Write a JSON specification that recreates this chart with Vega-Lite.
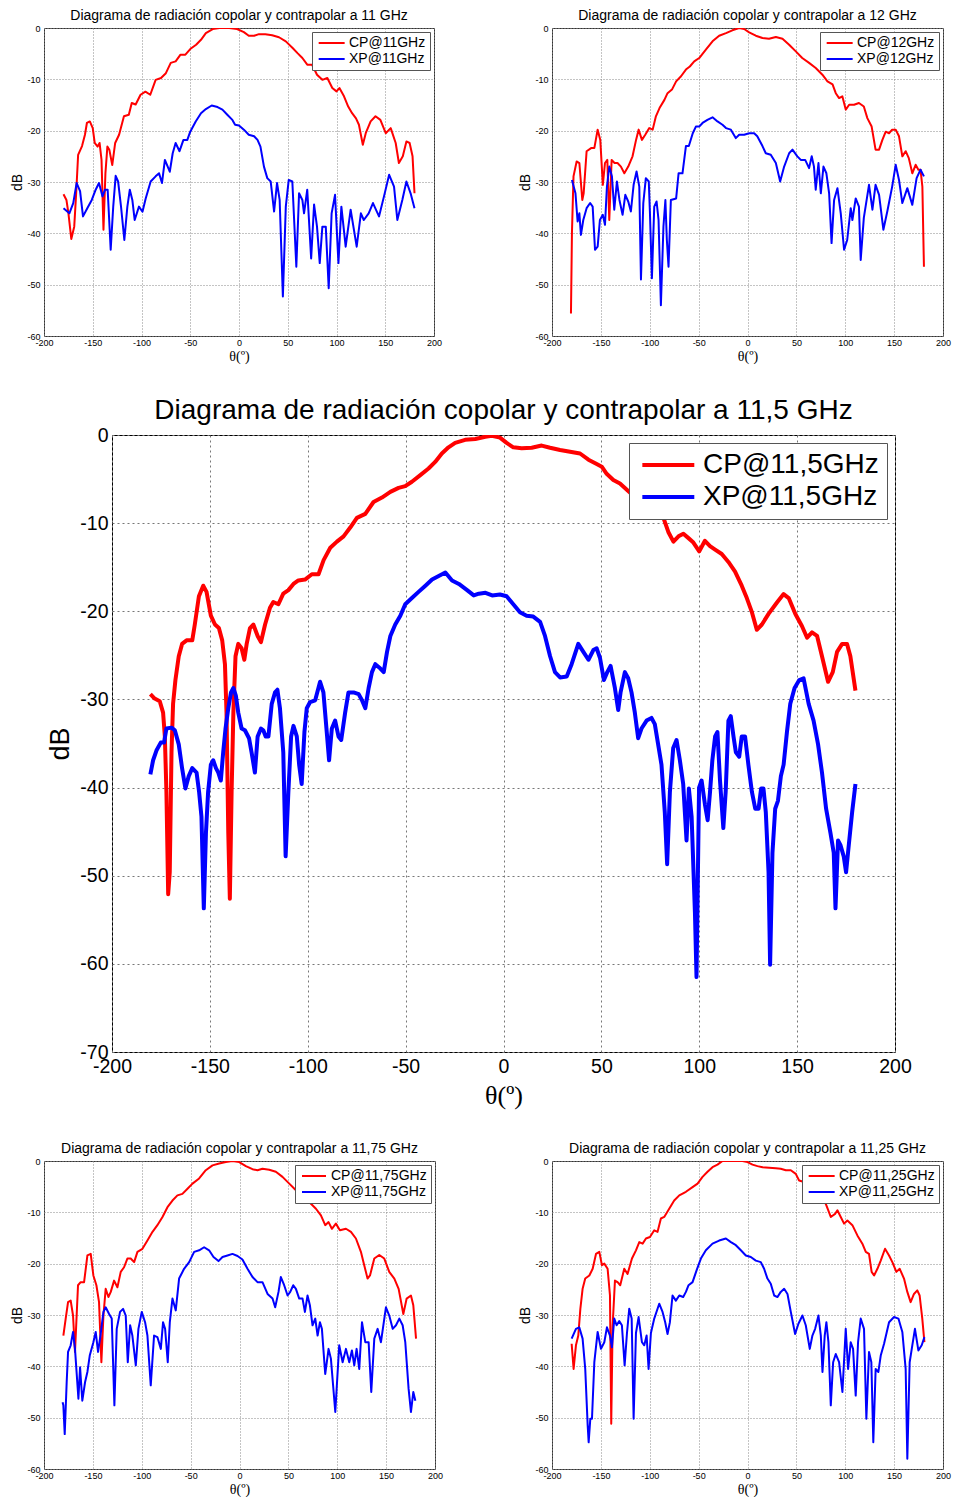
{
  "$schema": "https://vega.github.io/schema/vega-lite/v6.json",
  "background": "white",
  "padding": {"left": 10, "top": 8, "right": 0, "bottom": 0},
  "config": {
    "font": "Liberation Sans",
    "view": {"stroke": "#333", "strokeWidth": 1},
    "axis": {
      "grid": true,
      "gridColor": "#888",
      "gridDash": [1, 2],
      "gridWidth": 1,
      "domain": false,
      "ticks": false,
      "labelColor": "#000",
      "labelFont": "Liberation Sans",
      "labelExpr": "datum.value + ''",
      "titleColor": "#000",
      "titleFontWeight": "normal",
      "labelOverlap": false,
      "labelFlush": false
    },
    "title": {"font": "Liberation Sans", "fontWeight": "normal", "color": "#000", "anchor": "middle"},
    "legend": {
      "title": null,
      "orient": "top-right",
      "fillColor": "#fff",
      "strokeColor": "#555",
      "labelColor": "#000",
      "labelFont": "Liberation Sans",
      "labelLimit": 0,
      "cornerRadius": 0
    }
  },
  "datasets": {
    "f11": [
      {"theta": -180, "dB": -32.4, "serie": "CP@11GHz"}, {"theta": -177, "dB": -33.5, "serie": "CP@11GHz"}, {"theta": -175, "dB": -36, "serie": "CP@11GHz"}, {"theta": -172, "dB": -41.1, "serie": "CP@11GHz"}, {"theta": -169, "dB": -38.7, "serie": "CP@11GHz"}, {"theta": -167, "dB": -32.2, "serie": "CP@11GHz"}, {"theta": -165, "dB": -24.7, "serie": "CP@11GHz"}, {"theta": -161, "dB": -23, "serie": "CP@11GHz"}, {"theta": -158, "dB": -20.8, "serie": "CP@11GHz"}, {"theta": -156, "dB": -18.5, "serie": "CP@11GHz"}, {"theta": -153, "dB": -18.2, "serie": "CP@11GHz"}, {"theta": -150, "dB": -19.5, "serie": "CP@11GHz"}, {"theta": -148, "dB": -22.4, "serie": "CP@11GHz"}, {"theta": -145, "dB": -23.1, "serie": "CP@11GHz"}, {"theta": -143, "dB": -22.4, "serie": "CP@11GHz"}, {"theta": -141, "dB": -25.7, "serie": "CP@11GHz"}, {"theta": -139, "dB": -39.3, "serie": "CP@11GHz"}, {"theta": -137, "dB": -28.3, "serie": "CP@11GHz"}, {"theta": -135, "dB": -23.1, "serie": "CP@11GHz"}, {"theta": -133, "dB": -23.7, "serie": "CP@11GHz"}, {"theta": -130, "dB": -26.7, "serie": "CP@11GHz"}, {"theta": -127, "dB": -22.4, "serie": "CP@11GHz"}, {"theta": -123, "dB": -20.8, "serie": "CP@11GHz"}, {"theta": -118, "dB": -17.2, "serie": "CP@11GHz"}, {"theta": -113, "dB": -16.9, "serie": "CP@11GHz"}, {"theta": -110, "dB": -14.6, "serie": "CP@11GHz"}, {"theta": -106, "dB": -14.9, "serie": "CP@11GHz"}, {"theta": -101, "dB": -13, "serie": "CP@11GHz"}, {"theta": -96, "dB": -12.4, "serie": "CP@11GHz"}, {"theta": -91, "dB": -13, "serie": "CP@11GHz"}, {"theta": -85.5, "dB": -10.1, "serie": "CP@11GHz"}, {"theta": -80, "dB": -9.75, "serie": "CP@11GHz"}, {"theta": -75, "dB": -8.8, "serie": "CP@11GHz"}, {"theta": -70, "dB": -6.8, "serie": "CP@11GHz"}, {"theta": -65, "dB": -6.5, "serie": "CP@11GHz"}, {"theta": -60, "dB": -5.2, "serie": "CP@11GHz"}, {"theta": -55, "dB": -5.2, "serie": "CP@11GHz"}, {"theta": -50, "dB": -4.1, "serie": "CP@11GHz"}, {"theta": -44, "dB": -3.25, "serie": "CP@11GHz"}, {"theta": -39, "dB": -2.3, "serie": "CP@11GHz"}, {"theta": -34, "dB": -1, "serie": "CP@11GHz"}, {"theta": -27, "dB": -0.2, "serie": "CP@11GHz"}, {"theta": -20, "dB": 0, "serie": "CP@11GHz"}, {"theta": -10, "dB": 0, "serie": "CP@11GHz"}, {"theta": -2, "dB": -0.2, "serie": "CP@11GHz"}, {"theta": 5, "dB": -0.8, "serie": "CP@11GHz"}, {"theta": 10, "dB": -1.5, "serie": "CP@11GHz"}, {"theta": 15.5, "dB": -1.5, "serie": "CP@11GHz"}, {"theta": 20.5, "dB": -1.2, "serie": "CP@11GHz"}, {"theta": 27, "dB": -1.2, "serie": "CP@11GHz"}, {"theta": 34, "dB": -1.4, "serie": "CP@11GHz"}, {"theta": 41, "dB": -1.8, "serie": "CP@11GHz"}, {"theta": 48, "dB": -2.6, "serie": "CP@11GHz"}, {"theta": 55, "dB": -3.9, "serie": "CP@11GHz"}, {"theta": 60, "dB": -4.9, "serie": "CP@11GHz"}, {"theta": 65, "dB": -5.85, "serie": "CP@11GHz"}, {"theta": 70, "dB": -7.15, "serie": "CP@11GHz"}, {"theta": 75, "dB": -7.15, "serie": "CP@11GHz"}, {"theta": 80, "dB": -9.1, "serie": "CP@11GHz"}, {"theta": 85.5, "dB": -10.1, "serie": "CP@11GHz"}, {"theta": 90.6, "dB": -9.75, "serie": "CP@11GHz"}, {"theta": 95.7, "dB": -11.7, "serie": "CP@11GHz"}, {"theta": 100, "dB": -12.35, "serie": "CP@11GHz"}, {"theta": 103, "dB": -11.7, "serie": "CP@11GHz"}, {"theta": 107.7, "dB": -13.3, "serie": "CP@11GHz"}, {"theta": 112, "dB": -15.3, "serie": "CP@11GHz"}, {"theta": 116, "dB": -16.6, "serie": "CP@11GHz"}, {"theta": 120, "dB": -17.6, "serie": "CP@11GHz"}, {"theta": 123, "dB": -18.85, "serie": "CP@11GHz"}, {"theta": 127, "dB": -22.75, "serie": "CP@11GHz"}, {"theta": 130, "dB": -20.5, "serie": "CP@11GHz"}, {"theta": 135, "dB": -18.2, "serie": "CP@11GHz"}, {"theta": 140, "dB": -17.2, "serie": "CP@11GHz"}, {"theta": 145, "dB": -17.9, "serie": "CP@11GHz"}, {"theta": 150.5, "dB": -20.5, "serie": "CP@11GHz"}, {"theta": 155.6, "dB": -19.5, "serie": "CP@11GHz"}, {"theta": 160.7, "dB": -22.4, "serie": "CP@11GHz"}, {"theta": 164, "dB": -26.3, "serie": "CP@11GHz"}, {"theta": 168, "dB": -25, "serie": "CP@11GHz"}, {"theta": 171.7, "dB": -22.1, "serie": "CP@11GHz"}, {"theta": 175, "dB": -22.4, "serie": "CP@11GHz"}, {"theta": 178, "dB": -25, "serie": "CP@11GHz"}, {"theta": 180, "dB": -32.2, "serie": "CP@11GHz"},
      {"theta": -180, "dB": -35.1, "serie": "XP@11GHz"}, {"theta": -174, "dB": -36.1, "serie": "XP@11GHz"}, {"theta": -170, "dB": -34.1, "serie": "XP@11GHz"}, {"theta": -166.5, "dB": -30.2, "serie": "XP@11GHz"}, {"theta": -163, "dB": -31.8, "serie": "XP@11GHz"}, {"theta": -160, "dB": -36.7, "serie": "XP@11GHz"}, {"theta": -155.6, "dB": -35.1, "serie": "XP@11GHz"}, {"theta": -151, "dB": -33.5, "serie": "XP@11GHz"}, {"theta": -147, "dB": -31.5, "serie": "XP@11GHz"}, {"theta": -143.6, "dB": -30.2, "serie": "XP@11GHz"}, {"theta": -140, "dB": -32.8, "serie": "XP@11GHz"}, {"theta": -137.4, "dB": -31.5, "serie": "XP@11GHz"}, {"theta": -134.7, "dB": -31.5, "serie": "XP@11GHz"}, {"theta": -131.6, "dB": -43.2, "serie": "XP@11GHz"}, {"theta": -129, "dB": -34.8, "serie": "XP@11GHz"}, {"theta": -126.5, "dB": -28.8, "serie": "XP@11GHz"}, {"theta": -124, "dB": -29.9, "serie": "XP@11GHz"}, {"theta": -121, "dB": -34.8, "serie": "XP@11GHz"}, {"theta": -117.6, "dB": -41.3, "serie": "XP@11GHz"}, {"theta": -114.5, "dB": -34.8, "serie": "XP@11GHz"}, {"theta": -112, "dB": -31.5, "serie": "XP@11GHz"}, {"theta": -109.4, "dB": -33.5, "serie": "XP@11GHz"}, {"theta": -107, "dB": -37.4, "serie": "XP@11GHz"}, {"theta": -102.6, "dB": -34.8, "serie": "XP@11GHz"}, {"theta": -99, "dB": -35.8, "serie": "XP@11GHz"}, {"theta": -95.7, "dB": -33.2, "serie": "XP@11GHz"}, {"theta": -90.6, "dB": -29.9, "serie": "XP@11GHz"}, {"theta": -85.5, "dB": -28.9, "serie": "XP@11GHz"}, {"theta": -82, "dB": -28.3, "serie": "XP@11GHz"}, {"theta": -79, "dB": -30.2, "serie": "XP@11GHz"}, {"theta": -76, "dB": -25.7, "serie": "XP@11GHz"}, {"theta": -71, "dB": -28, "serie": "XP@11GHz"}, {"theta": -68, "dB": -24.4, "serie": "XP@11GHz"}, {"theta": -65, "dB": -22.4, "serie": "XP@11GHz"}, {"theta": -61, "dB": -24, "serie": "XP@11GHz"}, {"theta": -57, "dB": -21.8, "serie": "XP@11GHz"}, {"theta": -53, "dB": -21.8, "serie": "XP@11GHz"}, {"theta": -50, "dB": -20.2, "serie": "XP@11GHz"}, {"theta": -44.4, "dB": -18.2, "serie": "XP@11GHz"}, {"theta": -39, "dB": -16.6, "serie": "XP@11GHz"}, {"theta": -34, "dB": -15.8, "serie": "XP@11GHz"}, {"theta": -28, "dB": -15.1, "serie": "XP@11GHz"}, {"theta": -22, "dB": -15.4, "serie": "XP@11GHz"}, {"theta": -17, "dB": -15.9, "serie": "XP@11GHz"}, {"theta": -12, "dB": -16.9, "serie": "XP@11GHz"}, {"theta": -6.8, "dB": -17.9, "serie": "XP@11GHz"}, {"theta": -4, "dB": -18.85, "serie": "XP@11GHz"}, {"theta": 0, "dB": -19, "serie": "XP@11GHz"}, {"theta": 5, "dB": -19.8, "serie": "XP@11GHz"}, {"theta": 10, "dB": -20.8, "serie": "XP@11GHz"}, {"theta": 15.5, "dB": -21.1, "serie": "XP@11GHz"}, {"theta": 19, "dB": -21.8, "serie": "XP@11GHz"}, {"theta": 22, "dB": -23.1, "serie": "XP@11GHz"}, {"theta": 25.6, "dB": -27, "serie": "XP@11GHz"}, {"theta": 29, "dB": -29.25, "serie": "XP@11GHz"}, {"theta": 32.5, "dB": -29.9, "serie": "XP@11GHz"}, {"theta": 36, "dB": -35.75, "serie": "XP@11GHz"}, {"theta": 39, "dB": -30.2, "serie": "XP@11GHz"}, {"theta": 41.7, "dB": -33.5, "serie": "XP@11GHz"}, {"theta": 45, "dB": -52.3, "serie": "XP@11GHz"}, {"theta": 48, "dB": -34.8, "serie": "XP@11GHz"}, {"theta": 51, "dB": -29.6, "serie": "XP@11GHz"}, {"theta": 54.7, "dB": -29.9, "serie": "XP@11GHz"}, {"theta": 58.8, "dB": -46.5, "serie": "XP@11GHz"}, {"theta": 61.6, "dB": -32.2, "serie": "XP@11GHz"}, {"theta": 65, "dB": -33.5, "serie": "XP@11GHz"}, {"theta": 66.7, "dB": -36.1, "serie": "XP@11GHz"}, {"theta": 70, "dB": -31.5, "serie": "XP@11GHz"}, {"theta": 74, "dB": -44.9, "serie": "XP@11GHz"}, {"theta": 77, "dB": -34.4, "serie": "XP@11GHz"}, {"theta": 80, "dB": -38.7, "serie": "XP@11GHz"}, {"theta": 82.8, "dB": -45.8, "serie": "XP@11GHz"}, {"theta": 85.5, "dB": -38.7, "serie": "XP@11GHz"}, {"theta": 89, "dB": -38.7, "serie": "XP@11GHz"}, {"theta": 92, "dB": -50.7, "serie": "XP@11GHz"}, {"theta": 95, "dB": -36.1, "serie": "XP@11GHz"}, {"theta": 98.5, "dB": -32.5, "serie": "XP@11GHz"}, {"theta": 102, "dB": -45.8, "serie": "XP@11GHz"}, {"theta": 105, "dB": -34.8, "serie": "XP@11GHz"}, {"theta": 109.4, "dB": -42.6, "serie": "XP@11GHz"}, {"theta": 114.5, "dB": -35.4, "serie": "XP@11GHz"}, {"theta": 120.7, "dB": -42.6, "serie": "XP@11GHz"}, {"theta": 125, "dB": -36.1, "serie": "XP@11GHz"}, {"theta": 128, "dB": -37.4, "serie": "XP@11GHz"}, {"theta": 133, "dB": -36.1, "serie": "XP@11GHz"}, {"theta": 137.4, "dB": -34.1, "serie": "XP@11GHz"}, {"theta": 143.6, "dB": -36.7, "serie": "XP@11GHz"}, {"theta": 148.7, "dB": -32.8, "serie": "XP@11GHz"}, {"theta": 154, "dB": -28.6, "serie": "XP@11GHz"}, {"theta": 159, "dB": -30.9, "serie": "XP@11GHz"}, {"theta": 162.4, "dB": -37.4, "serie": "XP@11GHz"}, {"theta": 167.5, "dB": -33.5, "serie": "XP@11GHz"}, {"theta": 171.7, "dB": -29.9, "serie": "XP@11GHz"}, {"theta": 176, "dB": -32.2, "serie": "XP@11GHz"}, {"theta": 180, "dB": -35.1, "serie": "XP@11GHz"}
    ],
    "f12": [
      {"theta": -180.6, "dB": -55.6, "serie": "CP@12GHz"}, {"theta": -179.6, "dB": -40, "serie": "CP@12GHz"}, {"theta": -178, "dB": -28.9, "serie": "CP@12GHz"}, {"theta": -174.8, "dB": -26, "serie": "CP@12GHz"}, {"theta": -172, "dB": -26.3, "serie": "CP@12GHz"}, {"theta": -169, "dB": -33.5, "serie": "CP@12GHz"}, {"theta": -167.6, "dB": -32.2, "serie": "CP@12GHz"}, {"theta": -164.6, "dB": -24, "serie": "CP@12GHz"}, {"theta": -160, "dB": -23.4, "serie": "CP@12GHz"}, {"theta": -156.7, "dB": -23.4, "serie": "CP@12GHz"}, {"theta": -153.3, "dB": -19.8, "serie": "CP@12GHz"}, {"theta": -150.6, "dB": -21.8, "serie": "CP@12GHz"}, {"theta": -148, "dB": -30.55, "serie": "CP@12GHz"}, {"theta": -145.8, "dB": -26.3, "serie": "CP@12GHz"}, {"theta": -143.4, "dB": -25.7, "serie": "CP@12GHz"}, {"theta": -141.4, "dB": -37.4, "serie": "CP@12GHz"}, {"theta": -139, "dB": -25.7, "serie": "CP@12GHz"}, {"theta": -136, "dB": -26.3, "serie": "CP@12GHz"}, {"theta": -133, "dB": -26.3, "serie": "CP@12GHz"}, {"theta": -129.5, "dB": -27, "serie": "CP@12GHz"}, {"theta": -126, "dB": -28.3, "serie": "CP@12GHz"}, {"theta": -122, "dB": -27, "serie": "CP@12GHz"}, {"theta": -117.6, "dB": -25, "serie": "CP@12GHz"}, {"theta": -114, "dB": -21.8, "serie": "CP@12GHz"}, {"theta": -111.4, "dB": -19.8, "serie": "CP@12GHz"}, {"theta": -108, "dB": -21.8, "serie": "CP@12GHz"}, {"theta": -104.6, "dB": -20.8, "serie": "CP@12GHz"}, {"theta": -100.5, "dB": -19.5, "serie": "CP@12GHz"}, {"theta": -97, "dB": -19.8, "serie": "CP@12GHz"}, {"theta": -93.7, "dB": -17.2, "serie": "CP@12GHz"}, {"theta": -90, "dB": -15.6, "serie": "CP@12GHz"}, {"theta": -85, "dB": -14, "serie": "CP@12GHz"}, {"theta": -81.8, "dB": -12.7, "serie": "CP@12GHz"}, {"theta": -77.3, "dB": -12, "serie": "CP@12GHz"}, {"theta": -73, "dB": -10.4, "serie": "CP@12GHz"}, {"theta": -68, "dB": -9.4, "serie": "CP@12GHz"}, {"theta": -63, "dB": -8.1, "serie": "CP@12GHz"}, {"theta": -59, "dB": -7.5, "serie": "CP@12GHz"}, {"theta": -54.5, "dB": -6.5, "serie": "CP@12GHz"}, {"theta": -49.4, "dB": -5.85, "serie": "CP@12GHz"}, {"theta": -42.6, "dB": -4.2, "serie": "CP@12GHz"}, {"theta": -35.8, "dB": -2.6, "serie": "CP@12GHz"}, {"theta": -29, "dB": -1.5, "serie": "CP@12GHz"}, {"theta": -22, "dB": -1, "serie": "CP@12GHz"}, {"theta": -15.5, "dB": -0.45, "serie": "CP@12GHz"}, {"theta": -8.5, "dB": 0, "serie": "CP@12GHz"}, {"theta": -3.4, "dB": -0.2, "serie": "CP@12GHz"}, {"theta": 1.7, "dB": -0.85, "serie": "CP@12GHz"}, {"theta": 8.5, "dB": -1.5, "serie": "CP@12GHz"}, {"theta": 15.3, "dB": -1.95, "serie": "CP@12GHz"}, {"theta": 22, "dB": -2.1, "serie": "CP@12GHz"}, {"theta": 29, "dB": -1.75, "serie": "CP@12GHz"}, {"theta": 35.8, "dB": -2.1, "serie": "CP@12GHz"}, {"theta": 42.6, "dB": -3.25, "serie": "CP@12GHz"}, {"theta": 49.4, "dB": -4.55, "serie": "CP@12GHz"}, {"theta": 56, "dB": -5.85, "serie": "CP@12GHz"}, {"theta": 63, "dB": -6.8, "serie": "CP@12GHz"}, {"theta": 69.8, "dB": -7.8, "serie": "CP@12GHz"}, {"theta": 76.6, "dB": -9.1, "serie": "CP@12GHz"}, {"theta": 81.8, "dB": -10.4, "serie": "CP@12GHz"}, {"theta": 87, "dB": -11, "serie": "CP@12GHz"}, {"theta": 90.3, "dB": -12.7, "serie": "CP@12GHz"}, {"theta": 93.7, "dB": -13.65, "serie": "CP@12GHz"}, {"theta": 97, "dB": -13.3, "serie": "CP@12GHz"}, {"theta": 100.5, "dB": -15.9, "serie": "CP@12GHz"}, {"theta": 104, "dB": -14.95, "serie": "CP@12GHz"}, {"theta": 109, "dB": -14.95, "serie": "CP@12GHz"}, {"theta": 114, "dB": -14.6, "serie": "CP@12GHz"}, {"theta": 119, "dB": -15.3, "serie": "CP@12GHz"}, {"theta": 122.6, "dB": -17.55, "serie": "CP@12GHz"}, {"theta": 127, "dB": -19.2, "serie": "CP@12GHz"}, {"theta": 131, "dB": -23.7, "serie": "CP@12GHz"}, {"theta": 134.6, "dB": -23.7, "serie": "CP@12GHz"}, {"theta": 138, "dB": -21.8, "serie": "CP@12GHz"}, {"theta": 141.4, "dB": -20.2, "serie": "CP@12GHz"}, {"theta": 144.8, "dB": -20.5, "serie": "CP@12GHz"}, {"theta": 148, "dB": -19.8, "serie": "CP@12GHz"}, {"theta": 151.6, "dB": -19.8, "serie": "CP@12GHz"}, {"theta": 155, "dB": -21.1, "serie": "CP@12GHz"}, {"theta": 158.4, "dB": -25, "serie": "CP@12GHz"}, {"theta": 161.8, "dB": -24, "serie": "CP@12GHz"}, {"theta": 165, "dB": -25.35, "serie": "CP@12GHz"}, {"theta": 168.6, "dB": -28.3, "serie": "CP@12GHz"}, {"theta": 172, "dB": -26.65, "serie": "CP@12GHz"}, {"theta": 174.8, "dB": -27.6, "serie": "CP@12GHz"}, {"theta": 177, "dB": -27.6, "serie": "CP@12GHz"}, {"theta": 178.9, "dB": -30.9, "serie": "CP@12GHz"}, {"theta": 180.5, "dB": -46.5, "serie": "CP@12GHz"},
      {"theta": -179.6, "dB": -29.6, "serie": "XP@12GHz"}, {"theta": -176, "dB": -32.2, "serie": "XP@12GHz"}, {"theta": -173.8, "dB": -37.7, "serie": "XP@12GHz"}, {"theta": -172, "dB": -36.1, "serie": "XP@12GHz"}, {"theta": -170.4, "dB": -40.3, "serie": "XP@12GHz"}, {"theta": -168, "dB": -37.4, "serie": "XP@12GHz"}, {"theta": -164.6, "dB": -35.1, "serie": "XP@12GHz"}, {"theta": -161, "dB": -34.1, "serie": "XP@12GHz"}, {"theta": -158.4, "dB": -34.8, "serie": "XP@12GHz"}, {"theta": -156, "dB": -43.2, "serie": "XP@12GHz"}, {"theta": -153.3, "dB": -42.6, "serie": "XP@12GHz"}, {"theta": -151, "dB": -37.4, "serie": "XP@12GHz"}, {"theta": -148, "dB": -36.4, "serie": "XP@12GHz"}, {"theta": -145.8, "dB": -38.35, "serie": "XP@12GHz"}, {"theta": -143.8, "dB": -30.9, "serie": "XP@12GHz"}, {"theta": -141.4, "dB": -27, "serie": "XP@12GHz"}, {"theta": -138.7, "dB": -28.9, "serie": "XP@12GHz"}, {"theta": -136.3, "dB": -35.4, "serie": "XP@12GHz"}, {"theta": -133.6, "dB": -29.9, "serie": "XP@12GHz"}, {"theta": -131, "dB": -33.5, "serie": "XP@12GHz"}, {"theta": -127.8, "dB": -36.4, "serie": "XP@12GHz"}, {"theta": -125, "dB": -32.5, "serie": "XP@12GHz"}, {"theta": -122, "dB": -33.8, "serie": "XP@12GHz"}, {"theta": -119.3, "dB": -35.75, "serie": "XP@12GHz"}, {"theta": -116.5, "dB": -30.55, "serie": "XP@12GHz"}, {"theta": -113.5, "dB": -27.95, "serie": "XP@12GHz"}, {"theta": -110.7, "dB": -30.9, "serie": "XP@12GHz"}, {"theta": -109, "dB": -49, "serie": "XP@12GHz"}, {"theta": -106.6, "dB": -34.1, "serie": "XP@12GHz"}, {"theta": -104, "dB": -29.25, "serie": "XP@12GHz"}, {"theta": -101, "dB": -29.9, "serie": "XP@12GHz"}, {"theta": -99.8, "dB": -36.1, "serie": "XP@12GHz"}, {"theta": -97.8, "dB": -48.75, "serie": "XP@12GHz"}, {"theta": -95.4, "dB": -34.8, "serie": "XP@12GHz"}, {"theta": -93, "dB": -33.8, "serie": "XP@12GHz"}, {"theta": -91, "dB": -37.4, "serie": "XP@12GHz"}, {"theta": -88.6, "dB": -54, "serie": "XP@12GHz"}, {"theta": -86, "dB": -38.7, "serie": "XP@12GHz"}, {"theta": -84, "dB": -33.5, "serie": "XP@12GHz"}, {"theta": -82.5, "dB": -41.3, "serie": "XP@12GHz"}, {"theta": -80.8, "dB": -46.5, "serie": "XP@12GHz"}, {"theta": -78.4, "dB": -33.5, "serie": "XP@12GHz"}, {"theta": -73, "dB": -33.2, "serie": "XP@12GHz"}, {"theta": -70.5, "dB": -28.3, "serie": "XP@12GHz"}, {"theta": -66.5, "dB": -28.3, "serie": "XP@12GHz"}, {"theta": -63, "dB": -23, "serie": "XP@12GHz"}, {"theta": -60, "dB": -23, "serie": "XP@12GHz"}, {"theta": -56, "dB": -20.5, "serie": "XP@12GHz"}, {"theta": -52.8, "dB": -19.2, "serie": "XP@12GHz"}, {"theta": -49.4, "dB": -19.2, "serie": "XP@12GHz"}, {"theta": -46, "dB": -18.5, "serie": "XP@12GHz"}, {"theta": -41, "dB": -17.9, "serie": "XP@12GHz"}, {"theta": -35.8, "dB": -17.4, "serie": "XP@12GHz"}, {"theta": -30.7, "dB": -18.2, "serie": "XP@12GHz"}, {"theta": -25.6, "dB": -18.85, "serie": "XP@12GHz"}, {"theta": -22, "dB": -19.5, "serie": "XP@12GHz"}, {"theta": -17, "dB": -19.8, "serie": "XP@12GHz"}, {"theta": -12, "dB": -21.45, "serie": "XP@12GHz"}, {"theta": -8.5, "dB": -20.8, "serie": "XP@12GHz"}, {"theta": -3.4, "dB": -20.8, "serie": "XP@12GHz"}, {"theta": 1.7, "dB": -20.5, "serie": "XP@12GHz"}, {"theta": 6.8, "dB": -20.5, "serie": "XP@12GHz"}, {"theta": 10, "dB": -21.1, "serie": "XP@12GHz"}, {"theta": 15.3, "dB": -23, "serie": "XP@12GHz"}, {"theta": 18.7, "dB": -24.4, "serie": "XP@12GHz"}, {"theta": 23.8, "dB": -24.7, "serie": "XP@12GHz"}, {"theta": 29, "dB": -26.3, "serie": "XP@12GHz"}, {"theta": 33.4, "dB": -29.9, "serie": "XP@12GHz"}, {"theta": 37.5, "dB": -27, "serie": "XP@12GHz"}, {"theta": 42.6, "dB": -24.4, "serie": "XP@12GHz"}, {"theta": 46, "dB": -23.7, "serie": "XP@12GHz"}, {"theta": 51, "dB": -25, "serie": "XP@12GHz"}, {"theta": 54.5, "dB": -25.7, "serie": "XP@12GHz"}, {"theta": 59, "dB": -25.7, "serie": "XP@12GHz"}, {"theta": 63, "dB": -27.3, "serie": "XP@12GHz"}, {"theta": 65.7, "dB": -25, "serie": "XP@12GHz"}, {"theta": 68, "dB": -27, "serie": "XP@12GHz"}, {"theta": 69.8, "dB": -31.5, "serie": "XP@12GHz"}, {"theta": 72.6, "dB": -26.3, "serie": "XP@12GHz"}, {"theta": 75, "dB": -32.2, "serie": "XP@12GHz"}, {"theta": 77.7, "dB": -27, "serie": "XP@12GHz"}, {"theta": 80.7, "dB": -28.3, "serie": "XP@12GHz"}, {"theta": 83.5, "dB": -32.2, "serie": "XP@12GHz"}, {"theta": 86, "dB": -41.9, "serie": "XP@12GHz"}, {"theta": 88.6, "dB": -33.5, "serie": "XP@12GHz"}, {"theta": 92, "dB": -31.2, "serie": "XP@12GHz"}, {"theta": 95.4, "dB": -36.1, "serie": "XP@12GHz"}, {"theta": 98.8, "dB": -43.2, "serie": "XP@12GHz"}, {"theta": 102, "dB": -41.3, "serie": "XP@12GHz"}, {"theta": 105.6, "dB": -35.1, "serie": "XP@12GHz"}, {"theta": 107.3, "dB": -37.4, "serie": "XP@12GHz"}, {"theta": 110.7, "dB": -33.2, "serie": "XP@12GHz"}, {"theta": 114, "dB": -34.8, "serie": "XP@12GHz"}, {"theta": 115.8, "dB": -45.2, "serie": "XP@12GHz"}, {"theta": 119, "dB": -37, "serie": "XP@12GHz"}, {"theta": 124.3, "dB": -30.55, "serie": "XP@12GHz"}, {"theta": 127.8, "dB": -35.4, "serie": "XP@12GHz"}, {"theta": 131, "dB": -30.55, "serie": "XP@12GHz"}, {"theta": 134.6, "dB": -32.5, "serie": "XP@12GHz"}, {"theta": 139, "dB": -39.3, "serie": "XP@12GHz"}, {"theta": 143, "dB": -35.75, "serie": "XP@12GHz"}, {"theta": 148, "dB": -30.9, "serie": "XP@12GHz"}, {"theta": 151.6, "dB": -26.65, "serie": "XP@12GHz"}, {"theta": 155, "dB": -29.6, "serie": "XP@12GHz"}, {"theta": 158.4, "dB": -34.1, "serie": "XP@12GHz"}, {"theta": 163.5, "dB": -31.2, "serie": "XP@12GHz"}, {"theta": 168.6, "dB": -34.45, "serie": "XP@12GHz"}, {"theta": 173, "dB": -29.25, "serie": "XP@12GHz"}, {"theta": 177, "dB": -27.6, "serie": "XP@12GHz"}, {"theta": 180.5, "dB": -28.9, "serie": "XP@12GHz"}
    ],
    "f115": [
      {"theta": -180.4, "dB": -29.4, "serie": "CP@11,5GHz"}, {"theta": -178.2, "dB": -29.9, "serie": "CP@11,5GHz"}, {"theta": -175.6, "dB": -30.2, "serie": "CP@11,5GHz"}, {"theta": -173.9, "dB": -31.5, "serie": "CP@11,5GHz"}, {"theta": -173, "dB": -34.2, "serie": "CP@11,5GHz"}, {"theta": -172.2, "dB": -40.5, "serie": "CP@11,5GHz"}, {"theta": -171.3, "dB": -52.1, "serie": "CP@11,5GHz"}, {"theta": -170.5, "dB": -49.6, "serie": "CP@11,5GHz"}, {"theta": -169.6, "dB": -36, "serie": "CP@11,5GHz"}, {"theta": -168.8, "dB": -30.5, "serie": "CP@11,5GHz"}, {"theta": -167.6, "dB": -27.8, "serie": "CP@11,5GHz"}, {"theta": -165.9, "dB": -25.1, "serie": "CP@11,5GHz"}, {"theta": -164.2, "dB": -23.7, "serie": "CP@11,5GHz"}, {"theta": -161.9, "dB": -23.3, "serie": "CP@11,5GHz"}, {"theta": -159, "dB": -23.3, "serie": "CP@11,5GHz"}, {"theta": -157.7, "dB": -21.5, "serie": "CP@11,5GHz"}, {"theta": -155.6, "dB": -18.3, "serie": "CP@11,5GHz"}, {"theta": -153.4, "dB": -17.1, "serie": "CP@11,5GHz"}, {"theta": -151.7, "dB": -17.8, "serie": "CP@11,5GHz"}, {"theta": -149.5, "dB": -20.5, "serie": "CP@11,5GHz"}, {"theta": -147.4, "dB": -21.5, "serie": "CP@11,5GHz"}, {"theta": -145.4, "dB": -21.9, "serie": "CP@11,5GHz"}, {"theta": -143.7, "dB": -23.3, "serie": "CP@11,5GHz"}, {"theta": -142.3, "dB": -26, "serie": "CP@11,5GHz"}, {"theta": -141.5, "dB": -31.5, "serie": "CP@11,5GHz"}, {"theta": -140.6, "dB": -45.1, "serie": "CP@11,5GHz"}, {"theta": -139.8, "dB": -52.6, "serie": "CP@11,5GHz"}, {"theta": -138.9, "dB": -40.5, "serie": "CP@11,5GHz"}, {"theta": -138, "dB": -31.5, "serie": "CP@11,5GHz"}, {"theta": -136.9, "dB": -25.1, "serie": "CP@11,5GHz"}, {"theta": -135.5, "dB": -23.7, "serie": "CP@11,5GHz"}, {"theta": -133.8, "dB": -24.2, "serie": "CP@11,5GHz"}, {"theta": -132.4, "dB": -25.5, "serie": "CP@11,5GHz"}, {"theta": -131.2, "dB": -23.7, "serie": "CP@11,5GHz"}, {"theta": -129.5, "dB": -21.9, "serie": "CP@11,5GHz"}, {"theta": -127.8, "dB": -21.5, "serie": "CP@11,5GHz"}, {"theta": -125.6, "dB": -22.8, "serie": "CP@11,5GHz"}, {"theta": -123.9, "dB": -23.5, "serie": "CP@11,5GHz"}, {"theta": -121.8, "dB": -21.5, "serie": "CP@11,5GHz"}, {"theta": -119.3, "dB": -19.6, "serie": "CP@11,5GHz"}, {"theta": -117.6, "dB": -18.95, "serie": "CP@11,5GHz"}, {"theta": -115, "dB": -19.2, "serie": "CP@11,5GHz"}, {"theta": -112.5, "dB": -18, "serie": "CP@11,5GHz"}, {"theta": -109.9, "dB": -17.6, "serie": "CP@11,5GHz"}, {"theta": -107.3, "dB": -16.9, "serie": "CP@11,5GHz"}, {"theta": -104.8, "dB": -16.5, "serie": "CP@11,5GHz"}, {"theta": -101.4, "dB": -16.4, "serie": "CP@11,5GHz"}, {"theta": -97.9, "dB": -15.8, "serie": "CP@11,5GHz"}, {"theta": -94.5, "dB": -15.8, "serie": "CP@11,5GHz"}, {"theta": -91.9, "dB": -14.2, "serie": "CP@11,5GHz"}, {"theta": -88.5, "dB": -12.8, "serie": "CP@11,5GHz"}, {"theta": -85.1, "dB": -12.1, "serie": "CP@11,5GHz"}, {"theta": -81.7, "dB": -11.5, "serie": "CP@11,5GHz"}, {"theta": -78.3, "dB": -10.5, "serie": "CP@11,5GHz"}, {"theta": -74.9, "dB": -9.4, "serie": "CP@11,5GHz"}, {"theta": -70.6, "dB": -8.95, "serie": "CP@11,5GHz"}, {"theta": -66.4, "dB": -7.6, "serie": "CP@11,5GHz"}, {"theta": -62.1, "dB": -7.1, "serie": "CP@11,5GHz"}, {"theta": -57.8, "dB": -6.45, "serie": "CP@11,5GHz"}, {"theta": -53.6, "dB": -6, "serie": "CP@11,5GHz"}, {"theta": -50.2, "dB": -5.8, "serie": "CP@11,5GHz"}, {"theta": -46.8, "dB": -5.3, "serie": "CP@11,5GHz"}, {"theta": -42.5, "dB": -4.55, "serie": "CP@11,5GHz"}, {"theta": -38.3, "dB": -3.8, "serie": "CP@11,5GHz"}, {"theta": -34.9, "dB": -3.05, "serie": "CP@11,5GHz"}, {"theta": -31.5, "dB": -2.1, "serie": "CP@11,5GHz"}, {"theta": -28.1, "dB": -1.4, "serie": "CP@11,5GHz"}, {"theta": -24.7, "dB": -0.9, "serie": "CP@11,5GHz"}, {"theta": -19.6, "dB": -0.55, "serie": "CP@11,5GHz"}, {"theta": -14.4, "dB": -0.45, "serie": "CP@11,5GHz"}, {"theta": -9.3, "dB": -0.2, "serie": "CP@11,5GHz"}, {"theta": -5.9, "dB": -0.1, "serie": "CP@11,5GHz"}, {"theta": -1.8, "dB": -0.3, "serie": "CP@11,5GHz"}, {"theta": 1.6, "dB": -0.9, "serie": "CP@11,5GHz"}, {"theta": 5, "dB": -1.4, "serie": "CP@11,5GHz"}, {"theta": 9.3, "dB": -1.5, "serie": "CP@11,5GHz"}, {"theta": 14.4, "dB": -1.45, "serie": "CP@11,5GHz"}, {"theta": 19.5, "dB": -1.2, "serie": "CP@11,5GHz"}, {"theta": 23.8, "dB": -1.45, "serie": "CP@11,5GHz"}, {"theta": 28.9, "dB": -1.7, "serie": "CP@11,5GHz"}, {"theta": 34, "dB": -1.9, "serie": "CP@11,5GHz"}, {"theta": 39.1, "dB": -2.1, "serie": "CP@11,5GHz"}, {"theta": 43.4, "dB": -2.8, "serie": "CP@11,5GHz"}, {"theta": 47.6, "dB": -3.3, "serie": "CP@11,5GHz"}, {"theta": 50.2, "dB": -3.6, "serie": "CP@11,5GHz"}, {"theta": 52.7, "dB": -4.4, "serie": "CP@11,5GHz"}, {"theta": 56.1, "dB": -5.1, "serie": "CP@11,5GHz"}, {"theta": 59.5, "dB": -5.5, "serie": "CP@11,5GHz"}, {"theta": 63, "dB": -6.2, "serie": "CP@11,5GHz"}, {"theta": 66.4, "dB": -6.9, "serie": "CP@11,5GHz"}, {"theta": 70.6, "dB": -8, "serie": "CP@11,5GHz"}, {"theta": 74.9, "dB": -8.7, "serie": "CP@11,5GHz"}, {"theta": 81.7, "dB": -9.4, "serie": "CP@11,5GHz"}, {"theta": 84.2, "dB": -11, "serie": "CP@11,5GHz"}, {"theta": 86.8, "dB": -12.1, "serie": "CP@11,5GHz"}, {"theta": 89.4, "dB": -11.5, "serie": "CP@11,5GHz"}, {"theta": 91.9, "dB": -11.2, "serie": "CP@11,5GHz"}, {"theta": 94.5, "dB": -11.7, "serie": "CP@11,5GHz"}, {"theta": 97, "dB": -12.2, "serie": "CP@11,5GHz"}, {"theta": 100, "dB": -13.2, "serie": "CP@11,5GHz"}, {"theta": 102.9, "dB": -12, "serie": "CP@11,5GHz"}, {"theta": 105.5, "dB": -12.6, "serie": "CP@11,5GHz"}, {"theta": 108.1, "dB": -13, "serie": "CP@11,5GHz"}, {"theta": 111.5, "dB": -13.5, "serie": "CP@11,5GHz"}, {"theta": 114.9, "dB": -14.4, "serie": "CP@11,5GHz"}, {"theta": 118.3, "dB": -15.5, "serie": "CP@11,5GHz"}, {"theta": 121.7, "dB": -17.1, "serie": "CP@11,5GHz"}, {"theta": 124.3, "dB": -18.5, "serie": "CP@11,5GHz"}, {"theta": 126.9, "dB": -20.1, "serie": "CP@11,5GHz"}, {"theta": 129.4, "dB": -22.1, "serie": "CP@11,5GHz"}, {"theta": 132, "dB": -21.5, "serie": "CP@11,5GHz"}, {"theta": 135.4, "dB": -20.3, "serie": "CP@11,5GHz"}, {"theta": 139.7, "dB": -19, "serie": "CP@11,5GHz"}, {"theta": 143.1, "dB": -18.05, "serie": "CP@11,5GHz"}, {"theta": 145.7, "dB": -18.5, "serie": "CP@11,5GHz"}, {"theta": 149.1, "dB": -20.3, "serie": "CP@11,5GHz"}, {"theta": 152.5, "dB": -21.7, "serie": "CP@11,5GHz"}, {"theta": 155.1, "dB": -23, "serie": "CP@11,5GHz"}, {"theta": 157.6, "dB": -22.4, "serie": "CP@11,5GHz"}, {"theta": 160.2, "dB": -22.8, "serie": "CP@11,5GHz"}, {"theta": 162.7, "dB": -25.1, "serie": "CP@11,5GHz"}, {"theta": 165.8, "dB": -28, "serie": "CP@11,5GHz"}, {"theta": 168.2, "dB": -26.9, "serie": "CP@11,5GHz"}, {"theta": 170.4, "dB": -24.6, "serie": "CP@11,5GHz"}, {"theta": 173, "dB": -23.7, "serie": "CP@11,5GHz"}, {"theta": 175.5, "dB": -23.7, "serie": "CP@11,5GHz"}, {"theta": 177.2, "dB": -25.1, "serie": "CP@11,5GHz"}, {"theta": 179.8, "dB": -29, "serie": "CP@11,5GHz"},
      {"theta": -180.4, "dB": -38.5, "serie": "XP@11,5GHz"}, {"theta": -179, "dB": -36.9, "serie": "XP@11,5GHz"}, {"theta": -177.3, "dB": -35.8, "serie": "XP@11,5GHz"}, {"theta": -175.1, "dB": -34.9, "serie": "XP@11,5GHz"}, {"theta": -173.4, "dB": -34.9, "serie": "XP@11,5GHz"}, {"theta": -172.2, "dB": -33.3, "serie": "XP@11,5GHz"}, {"theta": -169.6, "dB": -33.2, "serie": "XP@11,5GHz"}, {"theta": -167.9, "dB": -33.5, "serie": "XP@11,5GHz"}, {"theta": -165.9, "dB": -35.1, "serie": "XP@11,5GHz"}, {"theta": -164.2, "dB": -37.8, "serie": "XP@11,5GHz"}, {"theta": -162.5, "dB": -40.1, "serie": "XP@11,5GHz"}, {"theta": -160.8, "dB": -38.7, "serie": "XP@11,5GHz"}, {"theta": -159, "dB": -37.8, "serie": "XP@11,5GHz"}, {"theta": -156.8, "dB": -38.3, "serie": "XP@11,5GHz"}, {"theta": -155.5, "dB": -40.5, "serie": "XP@11,5GHz"}, {"theta": -154.3, "dB": -43.3, "serie": "XP@11,5GHz"}, {"theta": -153.1, "dB": -53.7, "serie": "XP@11,5GHz"}, {"theta": -152, "dB": -45.1, "serie": "XP@11,5GHz"}, {"theta": -150.9, "dB": -40.5, "serie": "XP@11,5GHz"}, {"theta": -149.5, "dB": -37.4, "serie": "XP@11,5GHz"}, {"theta": -148.3, "dB": -36.9, "serie": "XP@11,5GHz"}, {"theta": -146.9, "dB": -37.8, "serie": "XP@11,5GHz"}, {"theta": -145.7, "dB": -38.3, "serie": "XP@11,5GHz"}, {"theta": -144.4, "dB": -39.2, "serie": "XP@11,5GHz"}, {"theta": -143.2, "dB": -36, "serie": "XP@11,5GHz"}, {"theta": -142, "dB": -33.3, "serie": "XP@11,5GHz"}, {"theta": -140.6, "dB": -31, "serie": "XP@11,5GHz"}, {"theta": -139.2, "dB": -29.2, "serie": "XP@11,5GHz"}, {"theta": -138, "dB": -28.7, "serie": "XP@11,5GHz"}, {"theta": -136.7, "dB": -29.6, "serie": "XP@11,5GHz"}, {"theta": -135.5, "dB": -31.5, "serie": "XP@11,5GHz"}, {"theta": -133.8, "dB": -33.3, "serie": "XP@11,5GHz"}, {"theta": -132.1, "dB": -33.5, "serie": "XP@11,5GHz"}, {"theta": -130, "dB": -34.4, "serie": "XP@11,5GHz"}, {"theta": -128.7, "dB": -36, "serie": "XP@11,5GHz"}, {"theta": -127, "dB": -38.3, "serie": "XP@11,5GHz"}, {"theta": -125.6, "dB": -34.2, "serie": "XP@11,5GHz"}, {"theta": -123.9, "dB": -33.3, "serie": "XP@11,5GHz"}, {"theta": -122.7, "dB": -33.5, "serie": "XP@11,5GHz"}, {"theta": -121.5, "dB": -34.2, "serie": "XP@11,5GHz"}, {"theta": -120.1, "dB": -34.2, "serie": "XP@11,5GHz"}, {"theta": -118.4, "dB": -30.5, "serie": "XP@11,5GHz"}, {"theta": -116.7, "dB": -29.2, "serie": "XP@11,5GHz"}, {"theta": -115.5, "dB": -28.9, "serie": "XP@11,5GHz"}, {"theta": -114.2, "dB": -31, "serie": "XP@11,5GHz"}, {"theta": -112.5, "dB": -36, "serie": "XP@11,5GHz"}, {"theta": -111.3, "dB": -47.8, "serie": "XP@11,5GHz"}, {"theta": -109.9, "dB": -40.5, "serie": "XP@11,5GHz"}, {"theta": -108.5, "dB": -34.2, "serie": "XP@11,5GHz"}, {"theta": -107.3, "dB": -33, "serie": "XP@11,5GHz"}, {"theta": -105.6, "dB": -34.2, "serie": "XP@11,5GHz"}, {"theta": -104.4, "dB": -37.4, "serie": "XP@11,5GHz"}, {"theta": -103.1, "dB": -39.6, "serie": "XP@11,5GHz"}, {"theta": -101.7, "dB": -33.7, "serie": "XP@11,5GHz"}, {"theta": -100.5, "dB": -31, "serie": "XP@11,5GHz"}, {"theta": -98.8, "dB": -30.3, "serie": "XP@11,5GHz"}, {"theta": -96.2, "dB": -30.1, "serie": "XP@11,5GHz"}, {"theta": -93.7, "dB": -28, "serie": "XP@11,5GHz"}, {"theta": -92, "dB": -29.2, "serie": "XP@11,5GHz"}, {"theta": -90.3, "dB": -33.7, "serie": "XP@11,5GHz"}, {"theta": -89.1, "dB": -36.9, "serie": "XP@11,5GHz"}, {"theta": -87.7, "dB": -33.3, "serie": "XP@11,5GHz"}, {"theta": -86, "dB": -32.4, "serie": "XP@11,5GHz"}, {"theta": -84.3, "dB": -34.2, "serie": "XP@11,5GHz"}, {"theta": -82.9, "dB": -34.6, "serie": "XP@11,5GHz"}, {"theta": -80.9, "dB": -31.5, "serie": "XP@11,5GHz"}, {"theta": -79.2, "dB": -29.2, "serie": "XP@11,5GHz"}, {"theta": -76.6, "dB": -29.2, "serie": "XP@11,5GHz"}, {"theta": -74, "dB": -29.4, "serie": "XP@11,5GHz"}, {"theta": -72.3, "dB": -30.1, "serie": "XP@11,5GHz"}, {"theta": -70.6, "dB": -31, "serie": "XP@11,5GHz"}, {"theta": -68.9, "dB": -28.7, "serie": "XP@11,5GHz"}, {"theta": -67.2, "dB": -26.9, "serie": "XP@11,5GHz"}, {"theta": -65.5, "dB": -26, "serie": "XP@11,5GHz"}, {"theta": -62.9, "dB": -26.5, "serie": "XP@11,5GHz"}, {"theta": -61.2, "dB": -26.9, "serie": "XP@11,5GHz"}, {"theta": -59.5, "dB": -24.6, "serie": "XP@11,5GHz"}, {"theta": -57.8, "dB": -22.8, "serie": "XP@11,5GHz"}, {"theta": -55.3, "dB": -21.5, "serie": "XP@11,5GHz"}, {"theta": -52.7, "dB": -20.5, "serie": "XP@11,5GHz"}, {"theta": -50.2, "dB": -19.2, "serie": "XP@11,5GHz"}, {"theta": -46.8, "dB": -18.5, "serie": "XP@11,5GHz"}, {"theta": -43.4, "dB": -17.8, "serie": "XP@11,5GHz"}, {"theta": -39.9, "dB": -17.1, "serie": "XP@11,5GHz"}, {"theta": -36.5, "dB": -16.4, "serie": "XP@11,5GHz"}, {"theta": -33.1, "dB": -16, "serie": "XP@11,5GHz"}, {"theta": -29.7, "dB": -15.6, "serie": "XP@11,5GHz"}, {"theta": -26.3, "dB": -16.5, "serie": "XP@11,5GHz"}, {"theta": -22.8, "dB": -16.9, "serie": "XP@11,5GHz"}, {"theta": -18.6, "dB": -17.6, "serie": "XP@11,5GHz"}, {"theta": -15.2, "dB": -18.2, "serie": "XP@11,5GHz"}, {"theta": -12.6, "dB": -18, "serie": "XP@11,5GHz"}, {"theta": -9.2, "dB": -17.9, "serie": "XP@11,5GHz"}, {"theta": -5.8, "dB": -18.2, "serie": "XP@11,5GHz"}, {"theta": -1.8, "dB": -18.1, "serie": "XP@11,5GHz"}, {"theta": 1.6, "dB": -18.3, "serie": "XP@11,5GHz"}, {"theta": 5, "dB": -19.2, "serie": "XP@11,5GHz"}, {"theta": 8.4, "dB": -20.1, "serie": "XP@11,5GHz"}, {"theta": 11.8, "dB": -20.5, "serie": "XP@11,5GHz"}, {"theta": 15.2, "dB": -20.6, "serie": "XP@11,5GHz"}, {"theta": 18.7, "dB": -21.2, "serie": "XP@11,5GHz"}, {"theta": 21.2, "dB": -22.8, "serie": "XP@11,5GHz"}, {"theta": 23.8, "dB": -25.1, "serie": "XP@11,5GHz"}, {"theta": 26.3, "dB": -26.9, "serie": "XP@11,5GHz"}, {"theta": 28.9, "dB": -27.5, "serie": "XP@11,5GHz"}, {"theta": 32.3, "dB": -27.4, "serie": "XP@11,5GHz"}, {"theta": 34.8, "dB": -26, "serie": "XP@11,5GHz"}, {"theta": 38.2, "dB": -23.7, "serie": "XP@11,5GHz"}, {"theta": 40.8, "dB": -24.6, "serie": "XP@11,5GHz"}, {"theta": 43.4, "dB": -25.5, "serie": "XP@11,5GHz"}, {"theta": 45.9, "dB": -24.4, "serie": "XP@11,5GHz"}, {"theta": 47.6, "dB": -24.2, "serie": "XP@11,5GHz"}, {"theta": 49.3, "dB": -25.3, "serie": "XP@11,5GHz"}, {"theta": 51.3, "dB": -27.8, "serie": "XP@11,5GHz"}, {"theta": 53, "dB": -26.9, "serie": "XP@11,5GHz"}, {"theta": 54.7, "dB": -26.2, "serie": "XP@11,5GHz"}, {"theta": 56.9, "dB": -28.7, "serie": "XP@11,5GHz"}, {"theta": 58.6, "dB": -31.2, "serie": "XP@11,5GHz"}, {"theta": 59.8, "dB": -29.2, "serie": "XP@11,5GHz"}, {"theta": 62, "dB": -26.9, "serie": "XP@11,5GHz"}, {"theta": 63.7, "dB": -27.6, "serie": "XP@11,5GHz"}, {"theta": 65.4, "dB": -29.2, "serie": "XP@11,5GHz"}, {"theta": 67.1, "dB": -31.5, "serie": "XP@11,5GHz"}, {"theta": 68.8, "dB": -34.4, "serie": "XP@11,5GHz"}, {"theta": 70.5, "dB": -33.3, "serie": "XP@11,5GHz"}, {"theta": 73.1, "dB": -32.4, "serie": "XP@11,5GHz"}, {"theta": 75.6, "dB": -32.1, "serie": "XP@11,5GHz"}, {"theta": 77.3, "dB": -32.8, "serie": "XP@11,5GHz"}, {"theta": 79, "dB": -35.1, "serie": "XP@11,5GHz"}, {"theta": 80.7, "dB": -37.4, "serie": "XP@11,5GHz"}, {"theta": 82.4, "dB": -42.8, "serie": "XP@11,5GHz"}, {"theta": 83.6, "dB": -48.7, "serie": "XP@11,5GHz"}, {"theta": 85, "dB": -40.5, "serie": "XP@11,5GHz"}, {"theta": 86.7, "dB": -35.5, "serie": "XP@11,5GHz"}, {"theta": 88.4, "dB": -34.6, "serie": "XP@11,5GHz"}, {"theta": 90.1, "dB": -36.9, "serie": "XP@11,5GHz"}, {"theta": 91.8, "dB": -39.6, "serie": "XP@11,5GHz"}, {"theta": 93.5, "dB": -46, "serie": "XP@11,5GHz"}, {"theta": 94.7, "dB": -40.1, "serie": "XP@11,5GHz"}, {"theta": 96.1, "dB": -43.3, "serie": "XP@11,5GHz"}, {"theta": 97.8, "dB": -54.2, "serie": "XP@11,5GHz"}, {"theta": 98.6, "dB": -61.5, "serie": "XP@11,5GHz"}, {"theta": 99.9, "dB": -40, "serie": "XP@11,5GHz"}, {"theta": 101.2, "dB": -39.2, "serie": "XP@11,5GHz"}, {"theta": 102.9, "dB": -41.9, "serie": "XP@11,5GHz"}, {"theta": 104.3, "dB": -43.7, "serie": "XP@11,5GHz"}, {"theta": 105.5, "dB": -40.5, "serie": "XP@11,5GHz"}, {"theta": 106.7, "dB": -36.9, "serie": "XP@11,5GHz"}, {"theta": 108.1, "dB": -34.2, "serie": "XP@11,5GHz"}, {"theta": 109.3, "dB": -33.7, "serie": "XP@11,5GHz"}, {"theta": 110.6, "dB": -39.2, "serie": "XP@11,5GHz"}, {"theta": 112.3, "dB": -44.6, "serie": "XP@11,5GHz"}, {"theta": 113.5, "dB": -40.5, "serie": "XP@11,5GHz"}, {"theta": 114.9, "dB": -32.4, "serie": "XP@11,5GHz"}, {"theta": 116.1, "dB": -31.9, "serie": "XP@11,5GHz"}, {"theta": 117.5, "dB": -34.2, "serie": "XP@11,5GHz"}, {"theta": 118.7, "dB": -36, "serie": "XP@11,5GHz"}, {"theta": 120.4, "dB": -36.5, "serie": "XP@11,5GHz"}, {"theta": 121.7, "dB": -34.2, "serie": "XP@11,5GHz"}, {"theta": 123.4, "dB": -34.2, "serie": "XP@11,5GHz"}, {"theta": 125.1, "dB": -37.4, "serie": "XP@11,5GHz"}, {"theta": 126.9, "dB": -40.5, "serie": "XP@11,5GHz"}, {"theta": 128.6, "dB": -42.4, "serie": "XP@11,5GHz"}, {"theta": 130.3, "dB": -42.4, "serie": "XP@11,5GHz"}, {"theta": 131.6, "dB": -40.1, "serie": "XP@11,5GHz"}, {"theta": 132.8, "dB": -40.1, "serie": "XP@11,5GHz"}, {"theta": 134, "dB": -42.8, "serie": "XP@11,5GHz"}, {"theta": 135.4, "dB": -49.6, "serie": "XP@11,5GHz"}, {"theta": 136.2, "dB": -60.1, "serie": "XP@11,5GHz"}, {"theta": 137.4, "dB": -47.4, "serie": "XP@11,5GHz"}, {"theta": 138.8, "dB": -42.4, "serie": "XP@11,5GHz"}, {"theta": 140.2, "dB": -41.5, "serie": "XP@11,5GHz"}, {"theta": 141.7, "dB": -38.7, "serie": "XP@11,5GHz"}, {"theta": 143.1, "dB": -37.4, "serie": "XP@11,5GHz"}, {"theta": 144.8, "dB": -33.7, "serie": "XP@11,5GHz"}, {"theta": 146.5, "dB": -30.5, "serie": "XP@11,5GHz"}, {"theta": 148.7, "dB": -28.7, "serie": "XP@11,5GHz"}, {"theta": 151.1, "dB": -27.8, "serie": "XP@11,5GHz"}, {"theta": 153.3, "dB": -27.6, "serie": "XP@11,5GHz"}, {"theta": 155.9, "dB": -30.5, "serie": "XP@11,5GHz"}, {"theta": 158.4, "dB": -32.4, "serie": "XP@11,5GHz"}, {"theta": 160.7, "dB": -35.1, "serie": "XP@11,5GHz"}, {"theta": 162.7, "dB": -38.3, "serie": "XP@11,5GHz"}, {"theta": 164.8, "dB": -42.4, "serie": "XP@11,5GHz"}, {"theta": 167, "dB": -45.1, "serie": "XP@11,5GHz"}, {"theta": 168.7, "dB": -47.4, "serie": "XP@11,5GHz"}, {"theta": 169.6, "dB": -53.7, "serie": "XP@11,5GHz"}, {"theta": 170.9, "dB": -46, "serie": "XP@11,5GHz"}, {"theta": 172.1, "dB": -46.5, "serie": "XP@11,5GHz"}, {"theta": 173.8, "dB": -47.8, "serie": "XP@11,5GHz"}, {"theta": 175, "dB": -49.6, "serie": "XP@11,5GHz"}, {"theta": 176.4, "dB": -46.5, "serie": "XP@11,5GHz"}, {"theta": 178.1, "dB": -42.8, "serie": "XP@11,5GHz"}, {"theta": 179.8, "dB": -39.6, "serie": "XP@11,5GHz"}
    ],
    "f1175": [
      {"theta": -180.2, "dB": -34, "serie": "CP@11,75GHz"}, {"theta": -177.8, "dB": -30.7, "serie": "CP@11,75GHz"}, {"theta": -175.4, "dB": -27.5, "serie": "CP@11,75GHz"}, {"theta": -172.7, "dB": -27.2, "serie": "CP@11,75GHz"}, {"theta": -170.3, "dB": -30.1, "serie": "CP@11,75GHz"}, {"theta": -168.3, "dB": -37.2, "serie": "CP@11,75GHz"}, {"theta": -165.2, "dB": -24.2, "serie": "CP@11,75GHz"}, {"theta": -162.5, "dB": -23.6, "serie": "CP@11,75GHz"}, {"theta": -159, "dB": -23.6, "serie": "CP@11,75GHz"}, {"theta": -155.6, "dB": -18.4, "serie": "CP@11,75GHz"}, {"theta": -152.2, "dB": -18.1, "serie": "CP@11,75GHz"}, {"theta": -149.5, "dB": -22.3, "serie": "CP@11,75GHz"}, {"theta": -146.4, "dB": -24.2, "serie": "CP@11,75GHz"}, {"theta": -143.7, "dB": -27.5, "serie": "CP@11,75GHz"}, {"theta": -141.3, "dB": -39.2, "serie": "CP@11,75GHz"}, {"theta": -139.2, "dB": -30.1, "serie": "CP@11,75GHz"}, {"theta": -136.9, "dB": -24.9, "serie": "CP@11,75GHz"}, {"theta": -134.1, "dB": -26.5, "serie": "CP@11,75GHz"}, {"theta": -131.7, "dB": -25.5, "serie": "CP@11,75GHz"}, {"theta": -128.3, "dB": -23.3, "serie": "CP@11,75GHz"}, {"theta": -124.9, "dB": -24.6, "serie": "CP@11,75GHz"}, {"theta": -121.5, "dB": -21.6, "serie": "CP@11,75GHz"}, {"theta": -118.1, "dB": -20.7, "serie": "CP@11,75GHz"}, {"theta": -114.7, "dB": -19, "serie": "CP@11,75GHz"}, {"theta": -111.3, "dB": -19, "serie": "CP@11,75GHz"}, {"theta": -107.8, "dB": -19.7, "serie": "CP@11,75GHz"}, {"theta": -104.4, "dB": -17.7, "serie": "CP@11,75GHz"}, {"theta": -99.3, "dB": -17.1, "serie": "CP@11,75GHz"}, {"theta": -94.2, "dB": -15.5, "serie": "CP@11,75GHz"}, {"theta": -89, "dB": -13.8, "serie": "CP@11,75GHz"}, {"theta": -84, "dB": -12.5, "serie": "CP@11,75GHz"}, {"theta": -78.8, "dB": -10.9, "serie": "CP@11,75GHz"}, {"theta": -73.7, "dB": -9, "serie": "CP@11,75GHz"}, {"theta": -68.6, "dB": -7.7, "serie": "CP@11,75GHz"}, {"theta": -63.5, "dB": -6.7, "serie": "CP@11,75GHz"}, {"theta": -58.4, "dB": -6.4, "serie": "CP@11,75GHz"}, {"theta": -53.2, "dB": -5.4, "serie": "CP@11,75GHz"}, {"theta": -48.1, "dB": -4.4, "serie": "CP@11,75GHz"}, {"theta": -41.3, "dB": -3.4, "serie": "CP@11,75GHz"}, {"theta": -34.5, "dB": -1.8, "serie": "CP@11,75GHz"}, {"theta": -27.6, "dB": -0.85, "serie": "CP@11,75GHz"}, {"theta": -20.8, "dB": -0.5, "serie": "CP@11,75GHz"}, {"theta": -14, "dB": -0.2, "serie": "CP@11,75GHz"}, {"theta": -7.2, "dB": 0, "serie": "CP@11,75GHz"}, {"theta": -0.3, "dB": -0.2, "serie": "CP@11,75GHz"}, {"theta": 6.5, "dB": -1, "serie": "CP@11,75GHz"}, {"theta": 13.3, "dB": -1.6, "serie": "CP@11,75GHz"}, {"theta": 18.4, "dB": -1.8, "serie": "CP@11,75GHz"}, {"theta": 23.5, "dB": -1.5, "serie": "CP@11,75GHz"}, {"theta": 30.4, "dB": -1.7, "serie": "CP@11,75GHz"}, {"theta": 37.2, "dB": -2.1, "serie": "CP@11,75GHz"}, {"theta": 44, "dB": -3.1, "serie": "CP@11,75GHz"}, {"theta": 50.9, "dB": -4.4, "serie": "CP@11,75GHz"}, {"theta": 57.7, "dB": -5.7, "serie": "CP@11,75GHz"}, {"theta": 64.5, "dB": -7, "serie": "CP@11,75GHz"}, {"theta": 71.3, "dB": -8, "serie": "CP@11,75GHz"}, {"theta": 78.2, "dB": -9.3, "serie": "CP@11,75GHz"}, {"theta": 83.3, "dB": -10.6, "serie": "CP@11,75GHz"}, {"theta": 87.7, "dB": -12.5, "serie": "CP@11,75GHz"}, {"theta": 91.1, "dB": -11.9, "serie": "CP@11,75GHz"}, {"theta": 94.5, "dB": -13.2, "serie": "CP@11,75GHz"}, {"theta": 98.6, "dB": -12.2, "serie": "CP@11,75GHz"}, {"theta": 102.7, "dB": -13.5, "serie": "CP@11,75GHz"}, {"theta": 108.9, "dB": -13.2, "serie": "CP@11,75GHz"}, {"theta": 114, "dB": -13.8, "serie": "CP@11,75GHz"}, {"theta": 119.1, "dB": -15.1, "serie": "CP@11,75GHz"}, {"theta": 124.2, "dB": -17.7, "serie": "CP@11,75GHz"}, {"theta": 127.6, "dB": -20.3, "serie": "CP@11,75GHz"}, {"theta": 131, "dB": -22.9, "serie": "CP@11,75GHz"}, {"theta": 133.5, "dB": -22.3, "serie": "CP@11,75GHz"}, {"theta": 137.9, "dB": -19, "serie": "CP@11,75GHz"}, {"theta": 143, "dB": -18.3, "serie": "CP@11,75GHz"}, {"theta": 148.1, "dB": -19, "serie": "CP@11,75GHz"}, {"theta": 153.2, "dB": -21.6, "serie": "CP@11,75GHz"}, {"theta": 158.4, "dB": -22.9, "serie": "CP@11,75GHz"}, {"theta": 162.8, "dB": -24.9, "serie": "CP@11,75GHz"}, {"theta": 167.6, "dB": -29.8, "serie": "CP@11,75GHz"}, {"theta": 171, "dB": -26.8, "serie": "CP@11,75GHz"}, {"theta": 175.4, "dB": -26.2, "serie": "CP@11,75GHz"}, {"theta": 177.8, "dB": -28.1, "serie": "CP@11,75GHz"}, {"theta": 180.6, "dB": -34.6, "serie": "CP@11,75GHz"},
      {"theta": -181, "dB": -47, "serie": "XP@11,75GHz"}, {"theta": -180.2, "dB": -47.6, "serie": "XP@11,75GHz"}, {"theta": -178.8, "dB": -53.2, "serie": "XP@11,75GHz"}, {"theta": -176.8, "dB": -43.1, "serie": "XP@11,75GHz"}, {"theta": -175.4, "dB": -37.2, "serie": "XP@11,75GHz"}, {"theta": -172.7, "dB": -35.9, "serie": "XP@11,75GHz"}, {"theta": -170.3, "dB": -33.3, "serie": "XP@11,75GHz"}, {"theta": -168.3, "dB": -36.6, "serie": "XP@11,75GHz"}, {"theta": -164.8, "dB": -46.3, "serie": "XP@11,75GHz"}, {"theta": -163.1, "dB": -40.2, "serie": "XP@11,75GHz"}, {"theta": -160.8, "dB": -46.7, "serie": "XP@11,75GHz"}, {"theta": -158, "dB": -43.1, "serie": "XP@11,75GHz"}, {"theta": -155.6, "dB": -41.1, "serie": "XP@11,75GHz"}, {"theta": -153.2, "dB": -37.9, "serie": "XP@11,75GHz"}, {"theta": -149.5, "dB": -35.3, "serie": "XP@11,75GHz"}, {"theta": -147.1, "dB": -33.3, "serie": "XP@11,75GHz"}, {"theta": -144.7, "dB": -37.2, "serie": "XP@11,75GHz"}, {"theta": -142, "dB": -33.7, "serie": "XP@11,75GHz"}, {"theta": -139.2, "dB": -29.4, "serie": "XP@11,75GHz"}, {"theta": -136.9, "dB": -28.5, "serie": "XP@11,75GHz"}, {"theta": -133.4, "dB": -29.8, "serie": "XP@11,75GHz"}, {"theta": -130.7, "dB": -30.7, "serie": "XP@11,75GHz"}, {"theta": -128, "dB": -47.6, "serie": "XP@11,75GHz"}, {"theta": -125.6, "dB": -32.7, "serie": "XP@11,75GHz"}, {"theta": -122.2, "dB": -29.4, "serie": "XP@11,75GHz"}, {"theta": -119.1, "dB": -28.8, "serie": "XP@11,75GHz"}, {"theta": -116.4, "dB": -30.1, "serie": "XP@11,75GHz"}, {"theta": -114.3, "dB": -39.2, "serie": "XP@11,75GHz"}, {"theta": -111.9, "dB": -32, "serie": "XP@11,75GHz"}, {"theta": -109.6, "dB": -34, "serie": "XP@11,75GHz"}, {"theta": -106.1, "dB": -39.8, "serie": "XP@11,75GHz"}, {"theta": -103.4, "dB": -32.7, "serie": "XP@11,75GHz"}, {"theta": -100, "dB": -29.4, "serie": "XP@11,75GHz"}, {"theta": -96.6, "dB": -31.4, "serie": "XP@11,75GHz"}, {"theta": -94.2, "dB": -34, "serie": "XP@11,75GHz"}, {"theta": -90.8, "dB": -43.7, "serie": "XP@11,75GHz"}, {"theta": -87.4, "dB": -34, "serie": "XP@11,75GHz"}, {"theta": -84, "dB": -34.3, "serie": "XP@11,75GHz"}, {"theta": -80.5, "dB": -36.6, "serie": "XP@11,75GHz"}, {"theta": -78.2, "dB": -31.4, "serie": "XP@11,75GHz"}, {"theta": -76.1, "dB": -32.7, "serie": "XP@11,75GHz"}, {"theta": -73.4, "dB": -39.2, "serie": "XP@11,75GHz"}, {"theta": -71.3, "dB": -31.4, "serie": "XP@11,75GHz"}, {"theta": -68.6, "dB": -26.8, "serie": "XP@11,75GHz"}, {"theta": -65.2, "dB": -29.1, "serie": "XP@11,75GHz"}, {"theta": -61.8, "dB": -22.9, "serie": "XP@11,75GHz"}, {"theta": -56.7, "dB": -21, "serie": "XP@11,75GHz"}, {"theta": -51.5, "dB": -19.7, "serie": "XP@11,75GHz"}, {"theta": -46.4, "dB": -17.7, "serie": "XP@11,75GHz"}, {"theta": -41.3, "dB": -17.4, "serie": "XP@11,75GHz"}, {"theta": -36.2, "dB": -16.8, "serie": "XP@11,75GHz"}, {"theta": -31.1, "dB": -17.4, "serie": "XP@11,75GHz"}, {"theta": -26.6, "dB": -18.7, "serie": "XP@11,75GHz"}, {"theta": -21.5, "dB": -19.5, "serie": "XP@11,75GHz"}, {"theta": -17.4, "dB": -18.7, "serie": "XP@11,75GHz"}, {"theta": -12.3, "dB": -18.4, "serie": "XP@11,75GHz"}, {"theta": -7.2, "dB": -18.1, "serie": "XP@11,75GHz"}, {"theta": -2, "dB": -18.5, "serie": "XP@11,75GHz"}, {"theta": 3, "dB": -19.2, "serie": "XP@11,75GHz"}, {"theta": 8.2, "dB": -21, "serie": "XP@11,75GHz"}, {"theta": 13.3, "dB": -22.6, "serie": "XP@11,75GHz"}, {"theta": 18.4, "dB": -23.6, "serie": "XP@11,75GHz"}, {"theta": 23.5, "dB": -23.6, "serie": "XP@11,75GHz"}, {"theta": 28.7, "dB": -25.9, "serie": "XP@11,75GHz"}, {"theta": 33.8, "dB": -26.8, "serie": "XP@11,75GHz"}, {"theta": 36.5, "dB": -28.5, "serie": "XP@11,75GHz"}, {"theta": 39.9, "dB": -25.5, "serie": "XP@11,75GHz"}, {"theta": 42.3, "dB": -22.6, "serie": "XP@11,75GHz"}, {"theta": 45.7, "dB": -24.2, "serie": "XP@11,75GHz"}, {"theta": 49.2, "dB": -26.2, "serie": "XP@11,75GHz"}, {"theta": 51.9, "dB": -25.5, "serie": "XP@11,75GHz"}, {"theta": 55, "dB": -24.2, "serie": "XP@11,75GHz"}, {"theta": 57.7, "dB": -24.9, "serie": "XP@11,75GHz"}, {"theta": 61.1, "dB": -26.8, "serie": "XP@11,75GHz"}, {"theta": 64.5, "dB": -26.8, "serie": "XP@11,75GHz"}, {"theta": 66.9, "dB": -29.4, "serie": "XP@11,75GHz"}, {"theta": 69.6, "dB": -26.2, "serie": "XP@11,75GHz"}, {"theta": 72, "dB": -28.1, "serie": "XP@11,75GHz"}, {"theta": 74.7, "dB": -32, "serie": "XP@11,75GHz"}, {"theta": 77.5, "dB": -30.7, "serie": "XP@11,75GHz"}, {"theta": 79.9, "dB": -34, "serie": "XP@11,75GHz"}, {"theta": 82.3, "dB": -31.4, "serie": "XP@11,75GHz"}, {"theta": 84.3, "dB": -32.7, "serie": "XP@11,75GHz"}, {"theta": 87.7, "dB": -41.5, "serie": "XP@11,75GHz"}, {"theta": 91.1, "dB": -36.6, "serie": "XP@11,75GHz"}, {"theta": 93.5, "dB": -38.5, "serie": "XP@11,75GHz"}, {"theta": 98, "dB": -48.9, "serie": "XP@11,75GHz"}, {"theta": 102, "dB": -35.9, "serie": "XP@11,75GHz"}, {"theta": 105.5, "dB": -39.2, "serie": "XP@11,75GHz"}, {"theta": 108.9, "dB": -36.6, "serie": "XP@11,75GHz"}, {"theta": 112.3, "dB": -39.2, "serie": "XP@11,75GHz"}, {"theta": 115, "dB": -36.9, "serie": "XP@11,75GHz"}, {"theta": 117.4, "dB": -39.8, "serie": "XP@11,75GHz"}, {"theta": 119.8, "dB": -36.6, "serie": "XP@11,75GHz"}, {"theta": 122.5, "dB": -40.5, "serie": "XP@11,75GHz"}, {"theta": 125.3, "dB": -31.4, "serie": "XP@11,75GHz"}, {"theta": 128.7, "dB": -35.3, "serie": "XP@11,75GHz"}, {"theta": 132.1, "dB": -35.3, "serie": "XP@11,75GHz"}, {"theta": 134.8, "dB": -45, "serie": "XP@11,75GHz"}, {"theta": 137.9, "dB": -34.6, "serie": "XP@11,75GHz"}, {"theta": 141.3, "dB": -32.7, "serie": "XP@11,75GHz"}, {"theta": 144.7, "dB": -35.3, "serie": "XP@11,75GHz"}, {"theta": 149.8, "dB": -28.5, "serie": "XP@11,75GHz"}, {"theta": 153.2, "dB": -30.1, "serie": "XP@11,75GHz"}, {"theta": 156.7, "dB": -32.7, "serie": "XP@11,75GHz"}, {"theta": 160.1, "dB": -32, "serie": "XP@11,75GHz"}, {"theta": 163.5, "dB": -30.7, "serie": "XP@11,75GHz"}, {"theta": 166.9, "dB": -32, "serie": "XP@11,75GHz"}, {"theta": 169.6, "dB": -35.3, "serie": "XP@11,75GHz"}, {"theta": 173, "dB": -44.4, "serie": "XP@11,75GHz"}, {"theta": 175.4, "dB": -48.9, "serie": "XP@11,75GHz"}, {"theta": 177.8, "dB": -45, "serie": "XP@11,75GHz"}, {"theta": 179.9, "dB": -46.7, "serie": "XP@11,75GHz"}
    ],
    "f1125": [
      {"theta": -179.9, "dB": -35.6, "serie": "CP@11,25GHz"}, {"theta": -177.9, "dB": -40.5, "serie": "CP@11,25GHz"}, {"theta": -175.5, "dB": -35.9, "serie": "CP@11,25GHz"}, {"theta": -173.1, "dB": -34, "serie": "CP@11,25GHz"}, {"theta": -171, "dB": -28.8, "serie": "CP@11,25GHz"}, {"theta": -168.7, "dB": -24.9, "serie": "CP@11,25GHz"}, {"theta": -166, "dB": -22.9, "serie": "CP@11,25GHz"}, {"theta": -161.8, "dB": -22.3, "serie": "CP@11,25GHz"}, {"theta": -158.4, "dB": -21, "serie": "CP@11,25GHz"}, {"theta": -155, "dB": -18.1, "serie": "CP@11,25GHz"}, {"theta": -151.6, "dB": -17.7, "serie": "CP@11,25GHz"}, {"theta": -148.9, "dB": -20.3, "serie": "CP@11,25GHz"}, {"theta": -146.5, "dB": -20, "serie": "CP@11,25GHz"}, {"theta": -143.1, "dB": -21, "serie": "CP@11,25GHz"}, {"theta": -140.7, "dB": -26.2, "serie": "CP@11,25GHz"}, {"theta": -139.4, "dB": -51.2, "serie": "CP@11,25GHz"}, {"theta": -138, "dB": -32.2, "serie": "CP@11,25GHz"}, {"theta": -135.6, "dB": -23.3, "serie": "CP@11,25GHz"}, {"theta": -132.9, "dB": -23.6, "serie": "CP@11,25GHz"}, {"theta": -130.2, "dB": -24.2, "serie": "CP@11,25GHz"}, {"theta": -126.1, "dB": -21, "serie": "CP@11,25GHz"}, {"theta": -122.7, "dB": -22, "serie": "CP@11,25GHz"}, {"theta": -118.2, "dB": -19, "serie": "CP@11,25GHz"}, {"theta": -114.1, "dB": -17.4, "serie": "CP@11,25GHz"}, {"theta": -110.7, "dB": -15.8, "serie": "CP@11,25GHz"}, {"theta": -107.3, "dB": -16.1, "serie": "CP@11,25GHz"}, {"theta": -103.9, "dB": -15.1, "serie": "CP@11,25GHz"}, {"theta": -99.8, "dB": -14.8, "serie": "CP@11,25GHz"}, {"theta": -95.4, "dB": -13.5, "serie": "CP@11,25GHz"}, {"theta": -92, "dB": -13.8, "serie": "CP@11,25GHz"}, {"theta": -88.6, "dB": -11.2, "serie": "CP@11,25GHz"}, {"theta": -85.2, "dB": -10.9, "serie": "CP@11,25GHz"}, {"theta": -80.1, "dB": -9.3, "serie": "CP@11,25GHz"}, {"theta": -75, "dB": -7.7, "serie": "CP@11,25GHz"}, {"theta": -69.8, "dB": -6.7, "serie": "CP@11,25GHz"}, {"theta": -63, "dB": -6, "serie": "CP@11,25GHz"}, {"theta": -56.2, "dB": -5.1, "serie": "CP@11,25GHz"}, {"theta": -51.1, "dB": -4.4, "serie": "CP@11,25GHz"}, {"theta": -46, "dB": -3.1, "serie": "CP@11,25GHz"}, {"theta": -40.9, "dB": -2.1, "serie": "CP@11,25GHz"}, {"theta": -35.8, "dB": -1.2, "serie": "CP@11,25GHz"}, {"theta": -30.7, "dB": -0.7, "serie": "CP@11,25GHz"}, {"theta": -25.6, "dB": 0, "serie": "CP@11,25GHz"}, {"theta": -18.7, "dB": 0, "serie": "CP@11,25GHz"}, {"theta": -11.9, "dB": 0, "serie": "CP@11,25GHz"}, {"theta": -5.1, "dB": 0, "serie": "CP@11,25GHz"}, {"theta": 0, "dB": -0.2, "serie": "CP@11,25GHz"}, {"theta": 5.1, "dB": -0.7, "serie": "CP@11,25GHz"}, {"theta": 10.2, "dB": -1, "serie": "CP@11,25GHz"}, {"theta": 15.3, "dB": -1.2, "serie": "CP@11,25GHz"}, {"theta": 22.1, "dB": -1.3, "serie": "CP@11,25GHz"}, {"theta": 29, "dB": -1.4, "serie": "CP@11,25GHz"}, {"theta": 34, "dB": -1.5, "serie": "CP@11,25GHz"}, {"theta": 39.2, "dB": -1.8, "serie": "CP@11,25GHz"}, {"theta": 44.3, "dB": -1.8, "serie": "CP@11,25GHz"}, {"theta": 49.4, "dB": -2.5, "serie": "CP@11,25GHz"}, {"theta": 52.8, "dB": -3.8, "serie": "CP@11,25GHz"}, {"theta": 57.9, "dB": -4.1, "serie": "CP@11,25GHz"}, {"theta": 61.3, "dB": -5.4, "serie": "CP@11,25GHz"}, {"theta": 64.7, "dB": -5.4, "serie": "CP@11,25GHz"}, {"theta": 69.8, "dB": -6.4, "serie": "CP@11,25GHz"}, {"theta": 75, "dB": -7.7, "serie": "CP@11,25GHz"}, {"theta": 80, "dB": -8.3, "serie": "CP@11,25GHz"}, {"theta": 85.2, "dB": -10.9, "serie": "CP@11,25GHz"}, {"theta": 89.6, "dB": -10.3, "serie": "CP@11,25GHz"}, {"theta": 92, "dB": -9.6, "serie": "CP@11,25GHz"}, {"theta": 95.4, "dB": -10.9, "serie": "CP@11,25GHz"}, {"theta": 98.8, "dB": -12.2, "serie": "CP@11,25GHz"}, {"theta": 102.2, "dB": -11.6, "serie": "CP@11,25GHz"}, {"theta": 107.3, "dB": -12.5, "serie": "CP@11,25GHz"}, {"theta": 112.4, "dB": -14.5, "serie": "CP@11,25GHz"}, {"theta": 117.5, "dB": -16.1, "serie": "CP@11,25GHz"}, {"theta": 121, "dB": -17.7, "serie": "CP@11,25GHz"}, {"theta": 124.3, "dB": -18.1, "serie": "CP@11,25GHz"}, {"theta": 127, "dB": -21.6, "serie": "CP@11,25GHz"}, {"theta": 129.5, "dB": -22.3, "serie": "CP@11,25GHz"}, {"theta": 132.9, "dB": -21, "serie": "CP@11,25GHz"}, {"theta": 136.3, "dB": -19.4, "serie": "CP@11,25GHz"}, {"theta": 140.7, "dB": -17.1, "serie": "CP@11,25GHz"}, {"theta": 144.8, "dB": -18.4, "serie": "CP@11,25GHz"}, {"theta": 148.2, "dB": -19.7, "serie": "CP@11,25GHz"}, {"theta": 152.3, "dB": -21.6, "serie": "CP@11,25GHz"}, {"theta": 155.7, "dB": -21, "serie": "CP@11,25GHz"}, {"theta": 160.1, "dB": -22.9, "serie": "CP@11,25GHz"}, {"theta": 163.5, "dB": -25.5, "serie": "CP@11,25GHz"}, {"theta": 166.9, "dB": -27.5, "serie": "CP@11,25GHz"}, {"theta": 170.3, "dB": -25.9, "serie": "CP@11,25GHz"}, {"theta": 173.7, "dB": -25.2, "serie": "CP@11,25GHz"}, {"theta": 176.1, "dB": -26.2, "serie": "CP@11,25GHz"}, {"theta": 178.8, "dB": -30.7, "serie": "CP@11,25GHz"}, {"theta": 181, "dB": -35.3, "serie": "CP@11,25GHz"},
      {"theta": -179.9, "dB": -34.6, "serie": "XP@11,25GHz"}, {"theta": -175.5, "dB": -32.7, "serie": "XP@11,25GHz"}, {"theta": -172.1, "dB": -32.4, "serie": "XP@11,25GHz"}, {"theta": -168.7, "dB": -34.6, "serie": "XP@11,25GHz"}, {"theta": -166, "dB": -40.5, "serie": "XP@11,25GHz"}, {"theta": -163.5, "dB": -51.5, "serie": "XP@11,25GHz"}, {"theta": -162.5, "dB": -54.8, "serie": "XP@11,25GHz"}, {"theta": -160.8, "dB": -50.2, "serie": "XP@11,25GHz"}, {"theta": -159.1, "dB": -50.2, "serie": "XP@11,25GHz"}, {"theta": -156.7, "dB": -39.2, "serie": "XP@11,25GHz"}, {"theta": -153.3, "dB": -33.3, "serie": "XP@11,25GHz"}, {"theta": -149.9, "dB": -36.6, "serie": "XP@11,25GHz"}, {"theta": -146.5, "dB": -35.3, "serie": "XP@11,25GHz"}, {"theta": -143.8, "dB": -32.4, "serie": "XP@11,25GHz"}, {"theta": -140.7, "dB": -34, "serie": "XP@11,25GHz"}, {"theta": -138.7, "dB": -36.3, "serie": "XP@11,25GHz"}, {"theta": -136.3, "dB": -30.7, "serie": "XP@11,25GHz"}, {"theta": -133.9, "dB": -32, "serie": "XP@11,25GHz"}, {"theta": -131.2, "dB": -31.2, "serie": "XP@11,25GHz"}, {"theta": -128.5, "dB": -32, "serie": "XP@11,25GHz"}, {"theta": -125.7, "dB": -39.8, "serie": "XP@11,25GHz"}, {"theta": -123.3, "dB": -33.5, "serie": "XP@11,25GHz"}, {"theta": -121, "dB": -28.8, "serie": "XP@11,25GHz"}, {"theta": -118.5, "dB": -30.7, "serie": "XP@11,25GHz"}, {"theta": -116.5, "dB": -50.2, "serie": "XP@11,25GHz"}, {"theta": -114.1, "dB": -33.5, "serie": "XP@11,25GHz"}, {"theta": -111.4, "dB": -30.4, "serie": "XP@11,25GHz"}, {"theta": -108, "dB": -35.3, "serie": "XP@11,25GHz"}, {"theta": -105.6, "dB": -35.9, "serie": "XP@11,25GHz"}, {"theta": -103.2, "dB": -34, "serie": "XP@11,25GHz"}, {"theta": -101.2, "dB": -40.5, "serie": "XP@11,25GHz"}, {"theta": -98.8, "dB": -33.5, "serie": "XP@11,25GHz"}, {"theta": -95.4, "dB": -30.7, "serie": "XP@11,25GHz"}, {"theta": -90.3, "dB": -27.8, "serie": "XP@11,25GHz"}, {"theta": -86.9, "dB": -29.4, "serie": "XP@11,25GHz"}, {"theta": -84.2, "dB": -31.4, "serie": "XP@11,25GHz"}, {"theta": -81.8, "dB": -33.7, "serie": "XP@11,25GHz"}, {"theta": -79.4, "dB": -31.4, "serie": "XP@11,25GHz"}, {"theta": -76.7, "dB": -26.2, "serie": "XP@11,25GHz"}, {"theta": -73.3, "dB": -27.2, "serie": "XP@11,25GHz"}, {"theta": -69.8, "dB": -26.2, "serie": "XP@11,25GHz"}, {"theta": -65.8, "dB": -26.5, "serie": "XP@11,25GHz"}, {"theta": -63, "dB": -25.5, "serie": "XP@11,25GHz"}, {"theta": -60.3, "dB": -24.2, "serie": "XP@11,25GHz"}, {"theta": -56.2, "dB": -23.6, "serie": "XP@11,25GHz"}, {"theta": -52.1, "dB": -21.3, "serie": "XP@11,25GHz"}, {"theta": -47.7, "dB": -19, "serie": "XP@11,25GHz"}, {"theta": -42.6, "dB": -17.4, "serie": "XP@11,25GHz"}, {"theta": -35.8, "dB": -16.1, "serie": "XP@11,25GHz"}, {"theta": -29, "dB": -15.5, "serie": "XP@11,25GHz"}, {"theta": -22.1, "dB": -15.1, "serie": "XP@11,25GHz"}, {"theta": -17, "dB": -15.8, "serie": "XP@11,25GHz"}, {"theta": -11.9, "dB": -16.4, "serie": "XP@11,25GHz"}, {"theta": -6.8, "dB": -17.4, "serie": "XP@11,25GHz"}, {"theta": -1.7, "dB": -18.4, "serie": "XP@11,25GHz"}, {"theta": 3.4, "dB": -18.7, "serie": "XP@11,25GHz"}, {"theta": 8.5, "dB": -19.4, "serie": "XP@11,25GHz"}, {"theta": 13.6, "dB": -19.7, "serie": "XP@11,25GHz"}, {"theta": 17, "dB": -21, "serie": "XP@11,25GHz"}, {"theta": 20.4, "dB": -22.9, "serie": "XP@11,25GHz"}, {"theta": 23.8, "dB": -23.9, "serie": "XP@11,25GHz"}, {"theta": 27.3, "dB": -26.2, "serie": "XP@11,25GHz"}, {"theta": 30.7, "dB": -26.5, "serie": "XP@11,25GHz"}, {"theta": 34, "dB": -25.5, "serie": "XP@11,25GHz"}, {"theta": 37.5, "dB": -24.9, "serie": "XP@11,25GHz"}, {"theta": 40.9, "dB": -25.9, "serie": "XP@11,25GHz"}, {"theta": 44.3, "dB": -29.4, "serie": "XP@11,25GHz"}, {"theta": 48.7, "dB": -33.7, "serie": "XP@11,25GHz"}, {"theta": 52.1, "dB": -31.7, "serie": "XP@11,25GHz"}, {"theta": 56.2, "dB": -30.1, "serie": "XP@11,25GHz"}, {"theta": 59.6, "dB": -32, "serie": "XP@11,25GHz"}, {"theta": 63.7, "dB": -36.6, "serie": "XP@11,25GHz"}, {"theta": 66.4, "dB": -34, "serie": "XP@11,25GHz"}, {"theta": 69.2, "dB": -32.7, "serie": "XP@11,25GHz"}, {"theta": 72.6, "dB": -30.1, "serie": "XP@11,25GHz"}, {"theta": 75, "dB": -34, "serie": "XP@11,25GHz"}, {"theta": 76.7, "dB": -41.1, "serie": "XP@11,25GHz"}, {"theta": 79, "dB": -34, "serie": "XP@11,25GHz"}, {"theta": 80.7, "dB": -31.4, "serie": "XP@11,25GHz"}, {"theta": 82.8, "dB": -35.3, "serie": "XP@11,25GHz"}, {"theta": 85.2, "dB": -47.6, "serie": "XP@11,25GHz"}, {"theta": 87.6, "dB": -39.2, "serie": "XP@11,25GHz"}, {"theta": 90.3, "dB": -37.6, "serie": "XP@11,25GHz"}, {"theta": 93.7, "dB": -39.2, "serie": "XP@11,25GHz"}, {"theta": 97.1, "dB": -45, "serie": "XP@11,25GHz"}, {"theta": 100.5, "dB": -32.7, "serie": "XP@11,25GHz"}, {"theta": 102.9, "dB": -40.5, "serie": "XP@11,25GHz"}, {"theta": 105.6, "dB": -35.3, "serie": "XP@11,25GHz"}, {"theta": 108, "dB": -36.6, "serie": "XP@11,25GHz"}, {"theta": 110.7, "dB": -45.7, "serie": "XP@11,25GHz"}, {"theta": 113.1, "dB": -35.3, "serie": "XP@11,25GHz"}, {"theta": 115.8, "dB": -30.7, "serie": "XP@11,25GHz"}, {"theta": 119.2, "dB": -32.7, "serie": "XP@11,25GHz"}, {"theta": 121.6, "dB": -50.2, "serie": "XP@11,25GHz"}, {"theta": 124.3, "dB": -37.2, "serie": "XP@11,25GHz"}, {"theta": 126.7, "dB": -39.2, "serie": "XP@11,25GHz"}, {"theta": 128.7, "dB": -54.8, "serie": "XP@11,25GHz"}, {"theta": 131.1, "dB": -40.5, "serie": "XP@11,25GHz"}, {"theta": 133.9, "dB": -41.1, "serie": "XP@11,25GHz"}, {"theta": 136.3, "dB": -37.9, "serie": "XP@11,25GHz"}, {"theta": 139.7, "dB": -35.6, "serie": "XP@11,25GHz"}, {"theta": 144.8, "dB": -31.4, "serie": "XP@11,25GHz"}, {"theta": 149.9, "dB": -30.4, "serie": "XP@11,25GHz"}, {"theta": 154.4, "dB": -30.7, "serie": "XP@11,25GHz"}, {"theta": 158.4, "dB": -33.3, "serie": "XP@11,25GHz"}, {"theta": 161.8, "dB": -40.5, "serie": "XP@11,25GHz"}, {"theta": 163.5, "dB": -58, "serie": "XP@11,25GHz"}, {"theta": 165.9, "dB": -39.2, "serie": "XP@11,25GHz"}, {"theta": 168.6, "dB": -35.9, "serie": "XP@11,25GHz"}, {"theta": 171.3, "dB": -32.7, "serie": "XP@11,25GHz"}, {"theta": 174.8, "dB": -36.9, "serie": "XP@11,25GHz"}, {"theta": 178.2, "dB": -35.9, "serie": "XP@11,25GHz"}, {"theta": 181, "dB": -34.3, "serie": "XP@11,25GHz"}
    ]
  },
  "vconcat": [
    {
      "hconcat": [
        {
          "title": {"text": "Diagrama de radiación copolar y contrapolar a 11 GHz", "fontSize": 14, "offset": 1},
          "width": 390, "height": 308,
          "data": {"name": "f11"},
          "mark": {"type": "line", "strokeWidth": 2, "strokeJoin": "round", "clip": true},
          "encoding": {
            "x": {"field": "theta", "type": "quantitative", "scale": {"domain": [-200, 200], "nice": false, "zero": false},
                  "axis": {"title": "θ(º)", "values": [-200, -150, -100, -50, 0, 50, 100, 150, 200], "labelFontSize": 9, "labelPadding": 2, "titleFont": "Liberation Serif", "titleFontSize": 14, "titlePadding": 2}},
            "y": {"field": "dB", "type": "quantitative", "scale": {"domain": [-60, 0], "nice": false, "zero": false},
                  "axis": {"title": "dB", "values": [-60, -50, -40, -30, -20, -10, 0], "labelFontSize": 9, "labelPadding": 4, "titleFontSize": 14, "titlePadding": 2}},
            "color": {"field": "serie", "type": "nominal", "scale": {"domain": ["CP@11GHz", "XP@11GHz"], "range": ["#ff0000", "#0000ff"]},
                      "legend": {"offset": 4, "padding": 4, "symbolType": "M-1,0H5", "symbolSize": 75, "symbolStrokeWidth": 2, "labelOffset": 19, "labelFontSize": 14, "rowPadding": 2}}
          }
        },
        {
          "title": {"text": "Diagrama de radiación copolar y contrapolar a 12 GHz", "fontSize": 14, "offset": 1},
          "width": 391, "height": 308,
          "data": {"name": "f12"},
          "mark": {"type": "line", "strokeWidth": 2, "strokeJoin": "round", "clip": true},
          "encoding": {
            "x": {"field": "theta", "type": "quantitative", "scale": {"domain": [-200, 200], "nice": false, "zero": false},
                  "axis": {"title": "θ(º)", "values": [-200, -150, -100, -50, 0, 50, 100, 150, 200], "labelFontSize": 9, "labelPadding": 2, "titleFont": "Liberation Serif", "titleFontSize": 14, "titlePadding": 2}},
            "y": {"field": "dB", "type": "quantitative", "scale": {"domain": [-60, 0], "nice": false, "zero": false},
                  "axis": {"title": "dB", "values": [-60, -50, -40, -30, -20, -10, 0], "labelFontSize": 9, "labelPadding": 4, "titleFontSize": 14, "titlePadding": 2}},
            "color": {"field": "serie", "type": "nominal", "scale": {"domain": ["CP@12GHz", "XP@12GHz"], "range": ["#ff0000", "#0000ff"]},
                      "legend": {"offset": 4, "padding": 4, "symbolType": "M-1,0H5", "symbolSize": 75, "symbolStrokeWidth": 2, "labelOffset": 19, "labelFontSize": 14, "rowPadding": 2}}
          }
        }
      ],
      "spacing": 118,
      "bounds": "flush",
      "resolve": {"scale": {"color": "independent"}, "legend": {"color": "independent"}}
    },
    {
      "hconcat": [
        {
          "width": 1, "height": 1,
          "data": {"values": [{}]},
          "mark": {"type": "point", "opacity": 0},
          "view": {"stroke": null}
        },
        {
          "title": {"text": "Diagrama de radiación copolar y contrapolar a 11,5 GHz", "fontSize": 28, "offset": 0},
          "width": 783, "height": 617,
          "data": {"name": "f115"},
          "mark": {"type": "line", "strokeWidth": 4, "strokeJoin": "round", "clip": true},
          "view": {"stroke": "#000"},
          "encoding": {
            "x": {"field": "theta", "type": "quantitative", "scale": {"domain": [-200, 200], "nice": false, "zero": false},
                  "axis": {"title": "θ(º)", "values": [-200, -150, -100, -50, 0, 50, 100, 150, 200], "labelFontSize": 19.5, "labelPadding": 5, "titleFont": "Liberation Serif", "titleFontSize": 26, "titlePadding": 7, "gridColor": "#777", "gridDash": [2, 3]}},
            "y": {"field": "dB", "type": "quantitative", "scale": {"domain": [-70, 0], "nice": false, "zero": false},
                  "axis": {"title": "dB", "values": [-70, -60, -50, -40, -30, -20, -10, 0], "labelFontSize": 19.5, "labelPadding": 4, "titleFontSize": 27, "titlePadding": 5, "gridColor": "#777", "gridDash": [2, 3]}},
            "color": {"field": "serie", "type": "nominal", "scale": {"domain": ["CP@11,5GHz", "XP@11,5GHz"], "range": ["#ff0000", "#0000ff"]},
                      "legend": {"offset": 8, "padding": 8, "symbolType": "M-1,0H5", "symbolSize": 300, "symbolStrokeWidth": 4, "labelOffset": 38, "labelFontSize": 28, "rowPadding": 4}}
          }
        }
      ],
      "spacing": 67,
      "bounds": "flush",
      "resolve": {"scale": {"color": "independent"}, "legend": {"color": "independent"}}
    },
    {
      "hconcat": [
        {
          "title": {"text": "Diagrama de radiación copolar y contrapolar a 11,75 GHz", "fontSize": 14, "offset": 1},
          "width": 391, "height": 308,
          "data": {"name": "f1175"},
          "mark": {"type": "line", "strokeWidth": 2, "strokeJoin": "round", "clip": true},
          "encoding": {
            "x": {"field": "theta", "type": "quantitative", "scale": {"domain": [-200, 200], "nice": false, "zero": false},
                  "axis": {"title": "θ(º)", "values": [-200, -150, -100, -50, 0, 50, 100, 150, 200], "labelFontSize": 9, "labelPadding": 2, "titleFont": "Liberation Serif", "titleFontSize": 14, "titlePadding": 2}},
            "y": {"field": "dB", "type": "quantitative", "scale": {"domain": [-60, 0], "nice": false, "zero": false},
                  "axis": {"title": "dB", "values": [-60, -50, -40, -30, -20, -10, 0], "labelFontSize": 9, "labelPadding": 4, "titleFontSize": 14, "titlePadding": 2}},
            "color": {"field": "serie", "type": "nominal", "scale": {"domain": ["CP@11,75GHz", "XP@11,75GHz"], "range": ["#ff0000", "#0000ff"]},
                      "legend": {"offset": 4, "padding": 4, "symbolType": "M-1,0H5", "symbolSize": 64, "symbolStrokeWidth": 2, "labelOffset": 18, "labelFontSize": 14, "rowPadding": 2}}
          }
        },
        {
          "title": {"text": "Diagrama de radiación copolar y contrapolar a 11,25 GHz", "fontSize": 14, "offset": 1},
          "width": 391, "height": 308,
          "data": {"name": "f1125"},
          "mark": {"type": "line", "strokeWidth": 2, "strokeJoin": "round", "clip": true},
          "encoding": {
            "x": {"field": "theta", "type": "quantitative", "scale": {"domain": [-200, 200], "nice": false, "zero": false},
                  "axis": {"title": "θ(º)", "values": [-200, -150, -100, -50, 0, 50, 100, 150, 200], "labelFontSize": 9, "labelPadding": 2, "titleFont": "Liberation Serif", "titleFontSize": 14, "titlePadding": 2}},
            "y": {"field": "dB", "type": "quantitative", "scale": {"domain": [-60, 0], "nice": false, "zero": false},
                  "axis": {"title": "dB", "values": [-60, -50, -40, -30, -20, -10, 0], "labelFontSize": 9, "labelPadding": 4, "titleFontSize": 14, "titlePadding": 2}},
            "color": {"field": "serie", "type": "nominal", "scale": {"domain": ["CP@11,25GHz", "XP@11,25GHz"], "range": ["#ff0000", "#0000ff"]},
                      "legend": {"offset": 4, "padding": 4, "symbolType": "M-1,0H5", "symbolSize": 75, "symbolStrokeWidth": 2, "labelOffset": 19, "labelFontSize": 14, "rowPadding": 2}}
          }
        }
      ],
      "spacing": 117,
      "bounds": "flush",
      "resolve": {"scale": {"color": "independent"}, "legend": {"color": "independent"}}
    }
  ],
  "spacing": 32,
  "resolve": {"scale": {"color": "independent"}, "legend": {"color": "independent"}}
}
